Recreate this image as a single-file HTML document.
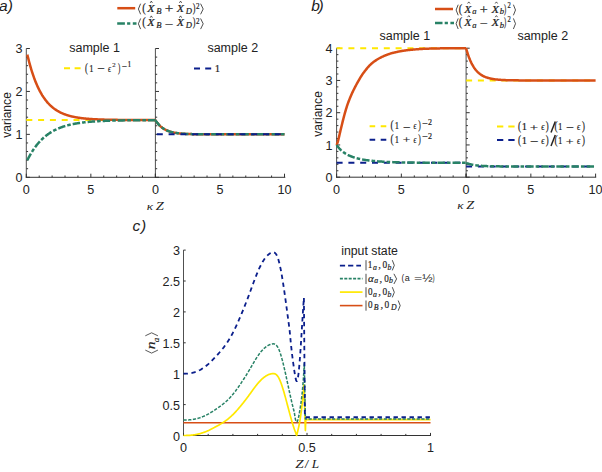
<!DOCTYPE html>
<html><head><meta charset="utf-8"><style>
html,body{margin:0;padding:0;background:#fff;overflow:hidden;}
svg{display:block;}
</style></head><body>
<svg width="602" height="472" viewBox="0 0 602 472">
<rect width="602" height="472" fill="#fff"/>
<line x1="26.30" y1="48.51" x2="26.30" y2="177.80" stroke="#505050" stroke-width="1"/>
<line x1="26.30" y1="177.30" x2="29.90" y2="177.30" stroke="#333" stroke-width="1"/>
<line x1="26.30" y1="168.71" x2="28.10" y2="168.71" stroke="#333" stroke-width="1"/>
<line x1="26.30" y1="160.13" x2="28.10" y2="160.13" stroke="#333" stroke-width="1"/>
<line x1="26.30" y1="151.54" x2="28.10" y2="151.54" stroke="#333" stroke-width="1"/>
<line x1="26.30" y1="142.96" x2="28.10" y2="142.96" stroke="#333" stroke-width="1"/>
<line x1="26.30" y1="134.37" x2="29.90" y2="134.37" stroke="#333" stroke-width="1"/>
<line x1="26.30" y1="125.78" x2="28.10" y2="125.78" stroke="#333" stroke-width="1"/>
<line x1="26.30" y1="117.20" x2="28.10" y2="117.20" stroke="#333" stroke-width="1"/>
<line x1="26.30" y1="108.61" x2="28.10" y2="108.61" stroke="#333" stroke-width="1"/>
<line x1="26.30" y1="100.03" x2="28.10" y2="100.03" stroke="#333" stroke-width="1"/>
<line x1="26.30" y1="91.44" x2="29.90" y2="91.44" stroke="#333" stroke-width="1"/>
<line x1="26.30" y1="82.85" x2="28.10" y2="82.85" stroke="#333" stroke-width="1"/>
<line x1="26.30" y1="74.27" x2="28.10" y2="74.27" stroke="#333" stroke-width="1"/>
<line x1="26.30" y1="65.68" x2="28.10" y2="65.68" stroke="#333" stroke-width="1"/>
<line x1="26.30" y1="57.10" x2="28.10" y2="57.10" stroke="#333" stroke-width="1"/>
<line x1="26.30" y1="48.51" x2="29.90" y2="48.51" stroke="#333" stroke-width="1"/>
<line x1="155.40" y1="48.51" x2="155.40" y2="177.80" stroke="#505050" stroke-width="1"/>
<line x1="155.40" y1="177.30" x2="159.00" y2="177.30" stroke="#333" stroke-width="1"/>
<line x1="155.40" y1="168.71" x2="157.20" y2="168.71" stroke="#333" stroke-width="1"/>
<line x1="155.40" y1="160.13" x2="157.20" y2="160.13" stroke="#333" stroke-width="1"/>
<line x1="155.40" y1="151.54" x2="157.20" y2="151.54" stroke="#333" stroke-width="1"/>
<line x1="155.40" y1="142.96" x2="157.20" y2="142.96" stroke="#333" stroke-width="1"/>
<line x1="155.40" y1="134.37" x2="159.00" y2="134.37" stroke="#333" stroke-width="1"/>
<line x1="155.40" y1="125.78" x2="157.20" y2="125.78" stroke="#333" stroke-width="1"/>
<line x1="155.40" y1="117.20" x2="157.20" y2="117.20" stroke="#333" stroke-width="1"/>
<line x1="155.40" y1="108.61" x2="157.20" y2="108.61" stroke="#333" stroke-width="1"/>
<line x1="155.40" y1="100.03" x2="157.20" y2="100.03" stroke="#333" stroke-width="1"/>
<line x1="155.40" y1="91.44" x2="159.00" y2="91.44" stroke="#333" stroke-width="1"/>
<line x1="155.40" y1="82.85" x2="157.20" y2="82.85" stroke="#333" stroke-width="1"/>
<line x1="155.40" y1="74.27" x2="157.20" y2="74.27" stroke="#333" stroke-width="1"/>
<line x1="155.40" y1="65.68" x2="157.20" y2="65.68" stroke="#333" stroke-width="1"/>
<line x1="155.40" y1="57.10" x2="157.20" y2="57.10" stroke="#333" stroke-width="1"/>
<line x1="155.40" y1="48.51" x2="159.00" y2="48.51" stroke="#333" stroke-width="1"/>
<line x1="25.80" y1="177.30" x2="285.30" y2="177.30" stroke="#333" stroke-width="1"/>
<line x1="26.30" y1="177.30" x2="26.30" y2="173.70" stroke="#333" stroke-width="1"/>
<line x1="39.21" y1="177.30" x2="39.21" y2="175.50" stroke="#333" stroke-width="1"/>
<line x1="52.12" y1="177.30" x2="52.12" y2="175.50" stroke="#333" stroke-width="1"/>
<line x1="65.03" y1="177.30" x2="65.03" y2="175.50" stroke="#333" stroke-width="1"/>
<line x1="77.94" y1="177.30" x2="77.94" y2="175.50" stroke="#333" stroke-width="1"/>
<line x1="90.85" y1="177.30" x2="90.85" y2="173.70" stroke="#333" stroke-width="1"/>
<line x1="103.76" y1="177.30" x2="103.76" y2="175.50" stroke="#333" stroke-width="1"/>
<line x1="116.67" y1="177.30" x2="116.67" y2="175.50" stroke="#333" stroke-width="1"/>
<line x1="129.58" y1="177.30" x2="129.58" y2="175.50" stroke="#333" stroke-width="1"/>
<line x1="142.49" y1="177.30" x2="142.49" y2="175.50" stroke="#333" stroke-width="1"/>
<line x1="155.40" y1="177.30" x2="155.40" y2="173.70" stroke="#333" stroke-width="1"/>
<line x1="155.40" y1="177.30" x2="155.40" y2="173.70" stroke="#333" stroke-width="1"/>
<line x1="168.31" y1="177.30" x2="168.31" y2="175.50" stroke="#333" stroke-width="1"/>
<line x1="181.22" y1="177.30" x2="181.22" y2="175.50" stroke="#333" stroke-width="1"/>
<line x1="194.13" y1="177.30" x2="194.13" y2="175.50" stroke="#333" stroke-width="1"/>
<line x1="207.04" y1="177.30" x2="207.04" y2="175.50" stroke="#333" stroke-width="1"/>
<line x1="219.95" y1="177.30" x2="219.95" y2="173.70" stroke="#333" stroke-width="1"/>
<line x1="232.86" y1="177.30" x2="232.86" y2="175.50" stroke="#333" stroke-width="1"/>
<line x1="245.77" y1="177.30" x2="245.77" y2="175.50" stroke="#333" stroke-width="1"/>
<line x1="258.68" y1="177.30" x2="258.68" y2="175.50" stroke="#333" stroke-width="1"/>
<line x1="271.59" y1="177.30" x2="271.59" y2="175.50" stroke="#333" stroke-width="1"/>
<line x1="284.50" y1="177.30" x2="284.50" y2="173.70" stroke="#333" stroke-width="1"/>
<path d="M26.30,120.06 L155.40,120.06" fill="none" stroke="#FFE800" stroke-width="2.0" stroke-dasharray="6 5.8" stroke-linejoin="round"/>
<path d="M27.33,54.63 L27.76,56.42 L28.19,58.17 L28.61,59.86 L29.04,61.51 L29.47,63.12 L29.89,64.68 L30.32,66.19 L30.75,67.67 L31.17,69.10 L31.60,70.50 L32.03,71.86 L32.46,73.18 L32.88,74.46 L33.31,75.71 L33.74,76.93 L34.16,78.11 L34.59,79.26 L35.02,80.37 L35.44,81.46 L35.87,82.52 L36.30,83.55 L36.72,84.55 L37.15,85.52 L37.58,86.47 L38.01,87.39 L38.43,88.28 L38.86,89.15 L39.29,90.00 L39.71,90.82 L40.14,91.62 L40.57,92.40 L40.99,93.16 L41.42,93.90 L41.85,94.61 L42.27,95.31 L42.70,95.99 L43.13,96.65 L43.55,97.29 L43.98,97.91 L44.41,98.52 L44.84,99.11 L45.26,99.68 L45.69,100.24 L46.12,100.79 L46.54,101.31 L46.97,101.83 L47.40,102.33 L47.82,102.81 L48.25,103.28 L48.68,103.74 L49.10,104.19 L49.53,104.63 L49.96,105.05 L50.38,105.46 L50.81,105.86 L51.24,106.25 L51.67,106.63 L52.09,106.99 L52.52,107.35 L52.95,107.70 L53.37,108.04 L53.80,108.37 L54.23,108.69 L54.65,109.00 L55.08,109.30 L55.51,109.60 L55.93,109.88 L56.36,110.16 L56.79,110.43 L57.22,110.70 L57.64,110.95 L58.07,111.20 L58.50,111.45 L58.92,111.68 L59.35,111.91 L59.78,112.14 L60.20,112.35 L60.63,112.56 L61.06,112.77 L61.48,112.97 L61.91,113.16 L62.34,113.35 L62.76,113.54 L63.19,113.71 L63.62,113.89 L64.05,114.06 L64.47,114.22 L64.90,114.38 L65.33,114.54 L65.75,114.69 L66.18,114.84 L66.61,114.98 L67.03,115.12 L67.46,115.25 L67.89,115.38 L68.31,115.51 L68.74,115.64 L69.17,115.76 L69.59,115.88 L70.02,115.99 L70.45,116.10 L70.88,116.21 L71.30,116.32 L71.73,116.42 L72.16,116.52 L72.58,116.62 L73.01,116.71 L73.44,116.80 L73.86,116.89 L74.29,116.98 L74.72,117.06 L75.14,117.14 L75.57,117.22 L76.00,117.30 L76.43,117.38 L76.85,117.45 L77.28,117.52 L77.71,117.59 L78.13,117.66 L78.56,117.73 L78.99,117.79 L79.41,117.85 L79.84,117.91 L80.27,117.97 L80.69,118.03 L81.12,118.08 L81.55,118.14 L81.97,118.19 L82.40,118.24 L82.83,118.29 L83.26,118.34 L83.68,118.39 L84.11,118.43 L84.54,118.48 L84.96,118.52 L85.39,118.56 L85.82,118.60 L86.24,118.64 L86.67,118.68 L87.10,118.72 L87.52,118.76 L87.95,118.79 L88.38,118.83 L88.81,118.86 L89.23,118.89 L89.66,118.93 L90.09,118.96 L90.51,118.99 L90.94,119.02 L91.37,119.05 L91.79,119.07 L92.22,119.10 L92.65,119.13 L93.07,119.15 L93.50,119.18 L93.93,119.20 L94.35,119.22 L94.78,119.25 L95.21,119.27 L95.64,119.29 L96.06,119.31 L96.49,119.33 L96.92,119.35 L97.34,119.37 L97.77,119.39 L98.20,119.41 L98.62,119.43 L99.05,119.44 L99.48,119.46 L99.90,119.48 L100.33,119.49 L100.76,119.51 L101.18,119.52 L101.61,119.54 L102.04,119.55 L102.47,119.57 L102.89,119.58 L103.32,119.59 L103.75,119.61 L104.17,119.62 L104.60,119.63 L105.03,119.64 L105.45,119.65 L105.88,119.67 L106.31,119.68 L106.73,119.69 L107.16,119.70 L107.59,119.71 L108.02,119.72 L108.44,119.73 L108.87,119.74 L109.30,119.74 L109.72,119.75 L110.15,119.76 L110.58,119.77 L111.00,119.78 L111.43,119.78 L111.86,119.79 L112.28,119.80 L112.71,119.81 L113.14,119.81 L113.56,119.82 L113.99,119.83 L114.42,119.83 L114.85,119.84 L115.27,119.85 L115.70,119.85 L116.13,119.86 L116.55,119.86 L116.98,119.87 L117.41,119.87 L117.83,119.88 L118.26,119.88 L118.69,119.89 L119.11,119.89 L119.54,119.90 L119.97,119.90 L120.39,119.91 L120.82,119.91 L121.25,119.91 L121.68,119.92 L122.10,119.92 L122.53,119.93 L122.96,119.93 L123.38,119.93 L123.81,119.94 L124.24,119.94 L124.66,119.94 L125.09,119.95 L125.52,119.95 L125.94,119.95 L126.37,119.96 L126.80,119.96 L127.23,119.96 L127.65,119.96 L128.08,119.97 L128.51,119.97 L128.93,119.97 L129.36,119.97 L129.79,119.98 L130.21,119.98 L130.64,119.98 L131.07,119.98 L131.49,119.99 L131.92,119.99 L132.35,119.99 L132.77,119.99 L133.20,119.99 L133.63,120.00 L134.06,120.00 L134.48,120.00 L134.91,120.00 L135.34,120.00 L135.76,120.00 L136.19,120.01 L136.62,120.01 L137.04,120.01 L137.47,120.01 L137.90,120.01 L138.32,120.01 L138.75,120.01 L139.18,120.01 L139.61,120.02 L140.03,120.02 L140.46,120.02 L140.89,120.02 L141.31,120.02 L141.74,120.02 L142.17,120.02 L142.59,120.02 L143.02,120.02 L143.45,120.03 L143.87,120.03 L144.30,120.03 L144.73,120.03 L145.15,120.03 L145.58,120.03 L146.01,120.03 L146.44,120.03 L146.86,120.03 L147.29,120.03 L147.72,120.03 L148.14,120.03 L148.57,120.04 L149.00,120.04 L149.42,120.04 L149.85,120.04 L150.28,120.04 L150.70,120.04 L151.13,120.04 L151.56,120.04 L151.98,120.04 L152.41,120.04 L152.84,120.04 L153.27,120.04 L153.69,120.04 L154.12,120.04 L154.55,120.04 L154.97,120.04 L155.40,120.04" fill="none" stroke="#D74E16" stroke-width="2.5" stroke-linejoin="round"/>
<path d="M27.33,160.20 L27.76,159.35 L28.19,158.51 L28.61,157.70 L29.04,156.90 L29.47,156.11 L29.89,155.35 L30.32,154.60 L30.75,153.86 L31.17,153.14 L31.60,152.44 L32.03,151.75 L32.46,151.08 L32.88,150.42 L33.31,149.77 L33.74,149.14 L34.16,148.52 L34.59,147.92 L35.02,147.32 L35.44,146.74 L35.87,146.18 L36.30,145.62 L36.72,145.08 L37.15,144.55 L37.58,144.03 L38.01,143.52 L38.43,143.02 L38.86,142.53 L39.29,142.05 L39.71,141.58 L40.14,141.13 L40.57,140.68 L40.99,140.24 L41.42,139.81 L41.85,139.39 L42.27,138.98 L42.70,138.58 L43.13,138.18 L43.55,137.80 L43.98,137.42 L44.41,137.05 L44.84,136.69 L45.26,136.34 L45.69,135.99 L46.12,135.65 L46.54,135.32 L46.97,135.00 L47.40,134.68 L47.82,134.37 L48.25,134.06 L48.68,133.77 L49.10,133.47 L49.53,133.19 L49.96,132.91 L50.38,132.64 L50.81,132.37 L51.24,132.11 L51.67,131.85 L52.09,131.60 L52.52,131.35 L52.95,131.11 L53.37,130.88 L53.80,130.65 L54.23,130.42 L54.65,130.20 L55.08,129.99 L55.51,129.78 L55.93,129.57 L56.36,129.37 L56.79,129.17 L57.22,128.98 L57.64,128.79 L58.07,128.60 L58.50,128.42 L58.92,128.24 L59.35,128.07 L59.78,127.90 L60.20,127.73 L60.63,127.57 L61.06,127.41 L61.48,127.25 L61.91,127.10 L62.34,126.95 L62.76,126.80 L63.19,126.66 L63.62,126.52 L64.05,126.38 L64.47,126.25 L64.90,126.12 L65.33,125.99 L65.75,125.86 L66.18,125.74 L66.61,125.62 L67.03,125.50 L67.46,125.38 L67.89,125.27 L68.31,125.16 L68.74,125.05 L69.17,124.94 L69.59,124.84 L70.02,124.74 L70.45,124.64 L70.88,124.54 L71.30,124.45 L71.73,124.35 L72.16,124.26 L72.58,124.17 L73.01,124.09 L73.44,124.00 L73.86,123.92 L74.29,123.83 L74.72,123.75 L75.14,123.68 L75.57,123.60 L76.00,123.52 L76.43,123.45 L76.85,123.38 L77.28,123.31 L77.71,123.24 L78.13,123.17 L78.56,123.10 L78.99,123.04 L79.41,122.98 L79.84,122.91 L80.27,122.85 L80.69,122.79 L81.12,122.74 L81.55,122.68 L81.97,122.62 L82.40,122.57 L82.83,122.52 L83.26,122.46 L83.68,122.41 L84.11,122.36 L84.54,122.31 L84.96,122.27 L85.39,122.22 L85.82,122.17 L86.24,122.13 L86.67,122.08 L87.10,122.04 L87.52,122.00 L87.95,121.96 L88.38,121.92 L88.81,121.88 L89.23,121.84 L89.66,121.80 L90.09,121.76 L90.51,121.73 L90.94,121.69 L91.37,121.66 L91.79,121.62 L92.22,121.59 L92.65,121.56 L93.07,121.53 L93.50,121.49 L93.93,121.46 L94.35,121.43 L94.78,121.41 L95.21,121.38 L95.64,121.35 L96.06,121.32 L96.49,121.29 L96.92,121.27 L97.34,121.24 L97.77,121.22 L98.20,121.19 L98.62,121.17 L99.05,121.14 L99.48,121.12 L99.90,121.10 L100.33,121.08 L100.76,121.06 L101.18,121.03 L101.61,121.01 L102.04,120.99 L102.47,120.97 L102.89,120.95 L103.32,120.94 L103.75,120.92 L104.17,120.90 L104.60,120.88 L105.03,120.86 L105.45,120.85 L105.88,120.83 L106.31,120.81 L106.73,120.80 L107.16,120.78 L107.59,120.77 L108.02,120.75 L108.44,120.74 L108.87,120.72 L109.30,120.71 L109.72,120.69 L110.15,120.68 L110.58,120.67 L111.00,120.65 L111.43,120.64 L111.86,120.63 L112.28,120.62 L112.71,120.61 L113.14,120.59 L113.56,120.58 L113.99,120.57 L114.42,120.56 L114.85,120.55 L115.27,120.54 L115.70,120.53 L116.13,120.52 L116.55,120.51 L116.98,120.50 L117.41,120.49 L117.83,120.48 L118.26,120.47 L118.69,120.46 L119.11,120.46 L119.54,120.45 L119.97,120.44 L120.39,120.43 L120.82,120.42 L121.25,120.41 L121.68,120.41 L122.10,120.40 L122.53,120.39 L122.96,120.39 L123.38,120.38 L123.81,120.37 L124.24,120.37 L124.66,120.36 L125.09,120.35 L125.52,120.35 L125.94,120.34 L126.37,120.33 L126.80,120.33 L127.23,120.32 L127.65,120.32 L128.08,120.31 L128.51,120.31 L128.93,120.30 L129.36,120.30 L129.79,120.29 L130.21,120.29 L130.64,120.28 L131.07,120.28 L131.49,120.27 L131.92,120.27 L132.35,120.26 L132.77,120.26 L133.20,120.25 L133.63,120.25 L134.06,120.25 L134.48,120.24 L134.91,120.24 L135.34,120.23 L135.76,120.23 L136.19,120.23 L136.62,120.22 L137.04,120.22 L137.47,120.22 L137.90,120.21 L138.32,120.21 L138.75,120.21 L139.18,120.20 L139.61,120.20 L140.03,120.20 L140.46,120.19 L140.89,120.19 L141.31,120.19 L141.74,120.19 L142.17,120.18 L142.59,120.18 L143.02,120.18 L143.45,120.18 L143.87,120.17 L144.30,120.17 L144.73,120.17 L145.15,120.17 L145.58,120.16 L146.01,120.16 L146.44,120.16 L146.86,120.16 L147.29,120.16 L147.72,120.15 L148.14,120.15 L148.57,120.15 L149.00,120.15 L149.42,120.15 L149.85,120.14 L150.28,120.14 L150.70,120.14 L151.13,120.14 L151.56,120.14 L151.98,120.14 L152.41,120.13 L152.84,120.13 L153.27,120.13 L153.69,120.13 L154.12,120.13 L154.55,120.13 L154.97,120.12 L155.40,120.12" fill="none" stroke="#288266" stroke-width="2.5" stroke-dasharray="7.5 2 3.6 2" stroke-linejoin="round"/>
<path d="M155.40,120.06 L155.83,120.74 L156.26,121.38 L156.69,121.99 L157.12,122.58 L157.55,123.13 L157.98,123.66 L158.41,124.17 L158.84,124.65 L159.27,125.11 L159.70,125.54 L160.13,125.96 L160.56,126.36 L160.99,126.74 L161.42,127.10 L161.86,127.44 L162.29,127.77 L162.72,128.08 L163.15,128.37 L163.58,128.66 L164.01,128.93 L164.44,129.18 L164.87,129.43 L165.30,129.66 L165.73,129.88 L166.16,130.10 L166.59,130.30 L167.02,130.49 L167.45,130.67 L167.88,130.85 L168.31,131.01 L168.74,131.17 L169.17,131.32 L169.60,131.47 L170.03,131.60 L170.46,131.73 L170.89,131.86 L171.32,131.98 L171.75,132.09 L172.18,132.20 L172.61,132.30 L173.04,132.40 L173.47,132.49 L173.90,132.58 L174.33,132.66 L174.77,132.74 L175.20,132.82 L175.63,132.89 L176.06,132.96 L176.49,133.03 L176.92,133.09 L177.35,133.15 L177.78,133.21 L178.21,133.27 L178.64,133.32 L179.07,133.37 L179.50,133.41 L179.93,133.46 L180.36,133.50 L180.79,133.54 L181.22,133.58 L181.65,133.62 L182.08,133.66 L182.51,133.69 L182.94,133.72 L183.37,133.75 L183.80,133.78 L184.23,133.81 L184.66,133.84 L185.09,133.86 L185.52,133.88 L185.95,133.91 L186.38,133.93 L186.81,133.95 L187.24,133.97 L187.68,133.99 L188.11,134.01 L188.54,134.02 L188.97,134.04 L189.40,134.06 L189.83,134.07 L190.26,134.08 L190.69,134.10 L191.12,134.11 L191.55,134.12 L191.98,134.13 L192.41,134.15 L192.84,134.16 L193.27,134.17 L193.70,134.18 L194.13,134.19 L194.56,134.19 L194.99,134.20 L195.42,134.21 L195.85,134.22 L196.28,134.22 L196.71,134.23 L197.14,134.24 L197.57,134.24 L198.00,134.25 L198.43,134.26 L198.86,134.26 L199.29,134.27 L199.72,134.27 L200.15,134.28 L200.59,134.28 L201.02,134.28 L201.45,134.29 L201.88,134.29 L202.31,134.30 L202.74,134.30 L203.17,134.30 L203.60,134.31 L204.03,134.31 L204.46,134.31 L204.89,134.31 L205.32,134.32 L205.75,134.32 L206.18,134.32 L206.61,134.32 L207.04,134.33 L207.47,134.33 L207.90,134.33 L208.33,134.33 L208.76,134.33 L209.19,134.34 L209.62,134.34 L210.05,134.34 L210.48,134.34 L210.91,134.34 L211.34,134.34 L211.77,134.34 L212.20,134.35 L212.63,134.35 L213.06,134.35 L213.50,134.35 L213.93,134.35 L214.36,134.35 L214.79,134.35 L215.22,134.35 L215.65,134.35 L216.08,134.35 L216.51,134.36 L216.94,134.36 L217.37,134.36 L217.80,134.36 L218.23,134.36 L218.66,134.36 L219.09,134.36 L219.52,134.36 L219.95,134.36 L220.38,134.36 L220.81,134.36 L221.24,134.36 L221.67,134.36 L222.10,134.36 L222.53,134.36 L222.96,134.36 L223.39,134.36 L223.82,134.36 L224.25,134.36 L224.68,134.36 L225.11,134.36 L225.54,134.36 L225.97,134.36 L226.41,134.37 L226.84,134.37 L227.27,134.37 L227.70,134.37 L228.13,134.37 L228.56,134.37 L228.99,134.37 L229.42,134.37 L229.85,134.37 L230.28,134.37 L230.71,134.37 L231.14,134.37 L231.57,134.37 L232.00,134.37 L232.43,134.37 L232.86,134.37 L233.29,134.37 L233.72,134.37 L234.15,134.37 L234.58,134.37 L235.01,134.37 L235.44,134.37 L235.87,134.37 L236.30,134.37 L236.73,134.37 L237.16,134.37 L237.59,134.37 L238.02,134.37 L238.45,134.37 L238.88,134.37 L239.31,134.37 L239.75,134.37 L240.18,134.37 L240.61,134.37 L241.04,134.37 L241.47,134.37 L241.90,134.37 L242.33,134.37 L242.76,134.37 L243.19,134.37 L243.62,134.37 L244.05,134.37 L244.48,134.37 L244.91,134.37 L245.34,134.37 L245.77,134.37 L246.20,134.37 L246.63,134.37 L247.06,134.37 L247.49,134.37 L247.92,134.37 L248.35,134.37 L248.78,134.37 L249.21,134.37 L249.64,134.37 L250.07,134.37 L250.50,134.37 L250.93,134.37 L251.36,134.37 L251.79,134.37 L252.23,134.37 L252.66,134.37 L253.09,134.37 L253.52,134.37 L253.95,134.37 L254.38,134.37 L254.81,134.37 L255.24,134.37 L255.67,134.37 L256.10,134.37 L256.53,134.37 L256.96,134.37 L257.39,134.37 L257.82,134.37 L258.25,134.37 L258.68,134.37 L259.11,134.37 L259.54,134.37 L259.97,134.37 L260.40,134.37 L260.83,134.37 L261.26,134.37 L261.69,134.37 L262.12,134.37 L262.55,134.37 L262.98,134.37 L263.41,134.37 L263.84,134.37 L264.27,134.37 L264.70,134.37 L265.13,134.37 L265.57,134.37 L266.00,134.37 L266.43,134.37 L266.86,134.37 L267.29,134.37 L267.72,134.37 L268.15,134.37 L268.58,134.37 L269.01,134.37 L269.44,134.37 L269.87,134.37 L270.30,134.37 L270.73,134.37 L271.16,134.37 L271.59,134.37 L272.02,134.37 L272.45,134.37 L272.88,134.37 L273.31,134.37 L273.74,134.37 L274.17,134.37 L274.60,134.37 L275.03,134.37 L275.46,134.37 L275.89,134.37 L276.32,134.37 L276.75,134.37 L277.18,134.37 L277.61,134.37 L278.05,134.37 L278.48,134.37 L278.91,134.37 L279.34,134.37 L279.77,134.37 L280.20,134.37 L280.63,134.37 L281.06,134.37 L281.49,134.37 L281.92,134.37 L282.35,134.37 L282.78,134.37 L283.21,134.37 L283.64,134.37 L284.07,134.37 L284.50,134.37" fill="none" stroke="#D74E16" stroke-width="2.5" stroke-linejoin="round"/>
<path d="M155.40,120.06 L155.83,120.74 L156.26,121.38 L156.69,121.99 L157.12,122.58 L157.55,123.13 L157.98,123.66 L158.41,124.17 L158.84,124.65 L159.27,125.11 L159.70,125.54 L160.13,125.96 L160.56,126.36 L160.99,126.74 L161.42,127.10 L161.86,127.44 L162.29,127.77 L162.72,128.08 L163.15,128.37 L163.58,128.66 L164.01,128.93 L164.44,129.18 L164.87,129.43 L165.30,129.66 L165.73,129.88 L166.16,130.10 L166.59,130.30 L167.02,130.49 L167.45,130.67 L167.88,130.85 L168.31,131.01 L168.74,131.17 L169.17,131.32 L169.60,131.47 L170.03,131.60 L170.46,131.73 L170.89,131.86 L171.32,131.98 L171.75,132.09 L172.18,132.20 L172.61,132.30 L173.04,132.40 L173.47,132.49 L173.90,132.58 L174.33,132.66 L174.77,132.74 L175.20,132.82 L175.63,132.89 L176.06,132.96 L176.49,133.03 L176.92,133.09 L177.35,133.15 L177.78,133.21 L178.21,133.27 L178.64,133.32 L179.07,133.37 L179.50,133.41 L179.93,133.46 L180.36,133.50 L180.79,133.54 L181.22,133.58 L181.65,133.62 L182.08,133.66 L182.51,133.69 L182.94,133.72 L183.37,133.75 L183.80,133.78 L184.23,133.81 L184.66,133.84 L185.09,133.86 L185.52,133.88 L185.95,133.91 L186.38,133.93 L186.81,133.95 L187.24,133.97 L187.68,133.99 L188.11,134.01 L188.54,134.02 L188.97,134.04 L189.40,134.06 L189.83,134.07 L190.26,134.08 L190.69,134.10 L191.12,134.11 L191.55,134.12 L191.98,134.13 L192.41,134.15 L192.84,134.16 L193.27,134.17 L193.70,134.18 L194.13,134.19 L194.56,134.19 L194.99,134.20 L195.42,134.21 L195.85,134.22 L196.28,134.22 L196.71,134.23 L197.14,134.24 L197.57,134.24 L198.00,134.25 L198.43,134.26 L198.86,134.26 L199.29,134.27 L199.72,134.27 L200.15,134.28 L200.59,134.28 L201.02,134.28 L201.45,134.29 L201.88,134.29 L202.31,134.30 L202.74,134.30 L203.17,134.30 L203.60,134.31 L204.03,134.31 L204.46,134.31 L204.89,134.31 L205.32,134.32 L205.75,134.32 L206.18,134.32 L206.61,134.32 L207.04,134.33 L207.47,134.33 L207.90,134.33 L208.33,134.33 L208.76,134.33 L209.19,134.34 L209.62,134.34 L210.05,134.34 L210.48,134.34 L210.91,134.34 L211.34,134.34 L211.77,134.34 L212.20,134.35 L212.63,134.35 L213.06,134.35 L213.50,134.35 L213.93,134.35 L214.36,134.35 L214.79,134.35 L215.22,134.35 L215.65,134.35 L216.08,134.35 L216.51,134.36 L216.94,134.36 L217.37,134.36 L217.80,134.36 L218.23,134.36 L218.66,134.36 L219.09,134.36 L219.52,134.36 L219.95,134.36 L220.38,134.36 L220.81,134.36 L221.24,134.36 L221.67,134.36 L222.10,134.36 L222.53,134.36 L222.96,134.36 L223.39,134.36 L223.82,134.36 L224.25,134.36 L224.68,134.36 L225.11,134.36 L225.54,134.36 L225.97,134.36 L226.41,134.37 L226.84,134.37 L227.27,134.37 L227.70,134.37 L228.13,134.37 L228.56,134.37 L228.99,134.37 L229.42,134.37 L229.85,134.37 L230.28,134.37 L230.71,134.37 L231.14,134.37 L231.57,134.37 L232.00,134.37 L232.43,134.37 L232.86,134.37 L233.29,134.37 L233.72,134.37 L234.15,134.37 L234.58,134.37 L235.01,134.37 L235.44,134.37 L235.87,134.37 L236.30,134.37 L236.73,134.37 L237.16,134.37 L237.59,134.37 L238.02,134.37 L238.45,134.37 L238.88,134.37 L239.31,134.37 L239.75,134.37 L240.18,134.37 L240.61,134.37 L241.04,134.37 L241.47,134.37 L241.90,134.37 L242.33,134.37 L242.76,134.37 L243.19,134.37 L243.62,134.37 L244.05,134.37 L244.48,134.37 L244.91,134.37 L245.34,134.37 L245.77,134.37 L246.20,134.37 L246.63,134.37 L247.06,134.37 L247.49,134.37 L247.92,134.37 L248.35,134.37 L248.78,134.37 L249.21,134.37 L249.64,134.37 L250.07,134.37 L250.50,134.37 L250.93,134.37 L251.36,134.37 L251.79,134.37 L252.23,134.37 L252.66,134.37 L253.09,134.37 L253.52,134.37 L253.95,134.37 L254.38,134.37 L254.81,134.37 L255.24,134.37 L255.67,134.37 L256.10,134.37 L256.53,134.37 L256.96,134.37 L257.39,134.37 L257.82,134.37 L258.25,134.37 L258.68,134.37 L259.11,134.37 L259.54,134.37 L259.97,134.37 L260.40,134.37 L260.83,134.37 L261.26,134.37 L261.69,134.37 L262.12,134.37 L262.55,134.37 L262.98,134.37 L263.41,134.37 L263.84,134.37 L264.27,134.37 L264.70,134.37 L265.13,134.37 L265.57,134.37 L266.00,134.37 L266.43,134.37 L266.86,134.37 L267.29,134.37 L267.72,134.37 L268.15,134.37 L268.58,134.37 L269.01,134.37 L269.44,134.37 L269.87,134.37 L270.30,134.37 L270.73,134.37 L271.16,134.37 L271.59,134.37 L272.02,134.37 L272.45,134.37 L272.88,134.37 L273.31,134.37 L273.74,134.37 L274.17,134.37 L274.60,134.37 L275.03,134.37 L275.46,134.37 L275.89,134.37 L276.32,134.37 L276.75,134.37 L277.18,134.37 L277.61,134.37 L278.05,134.37 L278.48,134.37 L278.91,134.37 L279.34,134.37 L279.77,134.37 L280.20,134.37 L280.63,134.37 L281.06,134.37 L281.49,134.37 L281.92,134.37 L282.35,134.37 L282.78,134.37 L283.21,134.37 L283.64,134.37 L284.07,134.37 L284.50,134.37" fill="none" stroke="#288266" stroke-width="2.5" stroke-dasharray="7.5 2 3.6 2" stroke-linejoin="round"/>
<path d="M155.40,134.37 L284.50,134.37" fill="none" stroke="#0B1F8C" stroke-width="2.0" stroke-dasharray="6 5.8" stroke-linejoin="round" stroke-dashoffset="-1.4"/>
<line x1="336.60" y1="48.20" x2="336.60" y2="177.70" stroke="#505050" stroke-width="1"/>
<line x1="336.60" y1="177.20" x2="340.20" y2="177.20" stroke="#333" stroke-width="1"/>
<line x1="336.60" y1="170.75" x2="338.40" y2="170.75" stroke="#333" stroke-width="1"/>
<line x1="336.60" y1="164.30" x2="338.40" y2="164.30" stroke="#333" stroke-width="1"/>
<line x1="336.60" y1="157.85" x2="338.40" y2="157.85" stroke="#333" stroke-width="1"/>
<line x1="336.60" y1="151.40" x2="338.40" y2="151.40" stroke="#333" stroke-width="1"/>
<line x1="336.60" y1="144.95" x2="340.20" y2="144.95" stroke="#333" stroke-width="1"/>
<line x1="336.60" y1="138.50" x2="338.40" y2="138.50" stroke="#333" stroke-width="1"/>
<line x1="336.60" y1="132.05" x2="338.40" y2="132.05" stroke="#333" stroke-width="1"/>
<line x1="336.60" y1="125.60" x2="338.40" y2="125.60" stroke="#333" stroke-width="1"/>
<line x1="336.60" y1="119.15" x2="338.40" y2="119.15" stroke="#333" stroke-width="1"/>
<line x1="336.60" y1="112.70" x2="340.20" y2="112.70" stroke="#333" stroke-width="1"/>
<line x1="336.60" y1="106.25" x2="338.40" y2="106.25" stroke="#333" stroke-width="1"/>
<line x1="336.60" y1="99.80" x2="338.40" y2="99.80" stroke="#333" stroke-width="1"/>
<line x1="336.60" y1="93.35" x2="338.40" y2="93.35" stroke="#333" stroke-width="1"/>
<line x1="336.60" y1="86.90" x2="338.40" y2="86.90" stroke="#333" stroke-width="1"/>
<line x1="336.60" y1="80.45" x2="340.20" y2="80.45" stroke="#333" stroke-width="1"/>
<line x1="336.60" y1="74.00" x2="338.40" y2="74.00" stroke="#333" stroke-width="1"/>
<line x1="336.60" y1="67.55" x2="338.40" y2="67.55" stroke="#333" stroke-width="1"/>
<line x1="336.60" y1="61.10" x2="338.40" y2="61.10" stroke="#333" stroke-width="1"/>
<line x1="336.60" y1="54.65" x2="338.40" y2="54.65" stroke="#333" stroke-width="1"/>
<line x1="336.60" y1="48.20" x2="340.20" y2="48.20" stroke="#333" stroke-width="1"/>
<line x1="466.10" y1="48.20" x2="466.10" y2="177.70" stroke="#505050" stroke-width="1"/>
<line x1="466.10" y1="177.20" x2="469.70" y2="177.20" stroke="#333" stroke-width="1"/>
<line x1="466.10" y1="170.75" x2="467.90" y2="170.75" stroke="#333" stroke-width="1"/>
<line x1="466.10" y1="164.30" x2="467.90" y2="164.30" stroke="#333" stroke-width="1"/>
<line x1="466.10" y1="157.85" x2="467.90" y2="157.85" stroke="#333" stroke-width="1"/>
<line x1="466.10" y1="151.40" x2="467.90" y2="151.40" stroke="#333" stroke-width="1"/>
<line x1="466.10" y1="144.95" x2="469.70" y2="144.95" stroke="#333" stroke-width="1"/>
<line x1="466.10" y1="138.50" x2="467.90" y2="138.50" stroke="#333" stroke-width="1"/>
<line x1="466.10" y1="132.05" x2="467.90" y2="132.05" stroke="#333" stroke-width="1"/>
<line x1="466.10" y1="125.60" x2="467.90" y2="125.60" stroke="#333" stroke-width="1"/>
<line x1="466.10" y1="119.15" x2="467.90" y2="119.15" stroke="#333" stroke-width="1"/>
<line x1="466.10" y1="112.70" x2="469.70" y2="112.70" stroke="#333" stroke-width="1"/>
<line x1="466.10" y1="106.25" x2="467.90" y2="106.25" stroke="#333" stroke-width="1"/>
<line x1="466.10" y1="99.80" x2="467.90" y2="99.80" stroke="#333" stroke-width="1"/>
<line x1="466.10" y1="93.35" x2="467.90" y2="93.35" stroke="#333" stroke-width="1"/>
<line x1="466.10" y1="86.90" x2="467.90" y2="86.90" stroke="#333" stroke-width="1"/>
<line x1="466.10" y1="80.45" x2="469.70" y2="80.45" stroke="#333" stroke-width="1"/>
<line x1="466.10" y1="74.00" x2="467.90" y2="74.00" stroke="#333" stroke-width="1"/>
<line x1="466.10" y1="67.55" x2="467.90" y2="67.55" stroke="#333" stroke-width="1"/>
<line x1="466.10" y1="61.10" x2="467.90" y2="61.10" stroke="#333" stroke-width="1"/>
<line x1="466.10" y1="54.65" x2="467.90" y2="54.65" stroke="#333" stroke-width="1"/>
<line x1="466.10" y1="48.20" x2="469.70" y2="48.20" stroke="#333" stroke-width="1"/>
<line x1="336.10" y1="177.20" x2="596.20" y2="177.20" stroke="#333" stroke-width="1"/>
<line x1="336.60" y1="177.20" x2="336.60" y2="173.60" stroke="#333" stroke-width="1"/>
<line x1="349.55" y1="177.20" x2="349.55" y2="175.40" stroke="#333" stroke-width="1"/>
<line x1="362.50" y1="177.20" x2="362.50" y2="175.40" stroke="#333" stroke-width="1"/>
<line x1="375.45" y1="177.20" x2="375.45" y2="175.40" stroke="#333" stroke-width="1"/>
<line x1="388.40" y1="177.20" x2="388.40" y2="175.40" stroke="#333" stroke-width="1"/>
<line x1="401.35" y1="177.20" x2="401.35" y2="173.60" stroke="#333" stroke-width="1"/>
<line x1="414.30" y1="177.20" x2="414.30" y2="175.40" stroke="#333" stroke-width="1"/>
<line x1="427.25" y1="177.20" x2="427.25" y2="175.40" stroke="#333" stroke-width="1"/>
<line x1="440.20" y1="177.20" x2="440.20" y2="175.40" stroke="#333" stroke-width="1"/>
<line x1="453.15" y1="177.20" x2="453.15" y2="175.40" stroke="#333" stroke-width="1"/>
<line x1="466.10" y1="177.20" x2="466.10" y2="173.60" stroke="#333" stroke-width="1"/>
<line x1="466.10" y1="177.20" x2="466.10" y2="173.60" stroke="#333" stroke-width="1"/>
<line x1="479.05" y1="177.20" x2="479.05" y2="175.40" stroke="#333" stroke-width="1"/>
<line x1="492.00" y1="177.20" x2="492.00" y2="175.40" stroke="#333" stroke-width="1"/>
<line x1="504.95" y1="177.20" x2="504.95" y2="175.40" stroke="#333" stroke-width="1"/>
<line x1="517.90" y1="177.20" x2="517.90" y2="175.40" stroke="#333" stroke-width="1"/>
<line x1="530.85" y1="177.20" x2="530.85" y2="173.60" stroke="#333" stroke-width="1"/>
<line x1="543.80" y1="177.20" x2="543.80" y2="175.40" stroke="#333" stroke-width="1"/>
<line x1="556.75" y1="177.20" x2="556.75" y2="175.40" stroke="#333" stroke-width="1"/>
<line x1="569.70" y1="177.20" x2="569.70" y2="175.40" stroke="#333" stroke-width="1"/>
<line x1="582.65" y1="177.20" x2="582.65" y2="175.40" stroke="#333" stroke-width="1"/>
<line x1="595.60" y1="177.20" x2="595.60" y2="173.60" stroke="#333" stroke-width="1"/>
<path d="M336.60,48.20 L466.10,48.20" fill="none" stroke="#FFE800" stroke-width="2.0" stroke-dasharray="6 5.8" stroke-linejoin="round"/>
<path d="M336.60,162.87 L466.10,162.87" fill="none" stroke="#0B1F8C" stroke-width="2.0" stroke-dasharray="6 5.8" stroke-linejoin="round"/>
<path d="M336.60,144.95 L337.03,143.95 L337.46,142.76 L337.90,141.34 L338.33,139.73 L338.76,137.98 L339.19,136.14 L339.62,134.26 L340.05,132.37 L340.49,130.53 L340.92,128.77 L341.35,127.01 L341.78,125.22 L342.21,123.43 L342.64,121.66 L343.08,119.91 L343.51,118.21 L343.94,116.56 L344.37,114.98 L344.80,113.42 L345.23,111.89 L345.67,110.40 L346.10,108.94 L346.53,107.53 L346.96,106.18 L347.39,104.89 L347.82,103.66 L348.25,102.46 L348.69,101.31 L349.12,100.19 L349.55,99.10 L349.98,98.04 L350.41,97.00 L350.85,95.99 L351.28,95.00 L351.71,94.02 L352.14,93.06 L352.57,92.13 L353.00,91.21 L353.44,90.31 L353.87,89.43 L354.30,88.57 L354.73,87.72 L355.16,86.89 L355.59,86.08 L356.03,85.27 L356.46,84.48 L356.89,83.69 L357.32,82.91 L357.75,82.13 L358.18,81.36 L358.62,80.59 L359.05,79.83 L359.48,79.09 L359.91,78.35 L360.34,77.63 L360.77,76.92 L361.21,76.23 L361.64,75.55 L362.07,74.90 L362.50,74.26 L362.93,73.65 L363.36,73.06 L363.80,72.48 L364.23,71.90 L364.66,71.33 L365.09,70.76 L365.52,70.21 L365.95,69.66 L366.38,69.12 L366.82,68.59 L367.25,68.07 L367.68,67.56 L368.11,67.06 L368.54,66.57 L368.98,66.10 L369.41,65.64 L369.84,65.20 L370.27,64.77 L370.70,64.35 L371.13,63.96 L371.57,63.57 L372.00,63.21 L372.43,62.86 L372.86,62.52 L373.29,62.19 L373.72,61.87 L374.16,61.55 L374.59,61.24 L375.02,60.94 L375.45,60.64 L375.88,60.35 L376.31,60.06 L376.75,59.79 L377.18,59.52 L377.61,59.25 L378.04,58.99 L378.47,58.74 L378.90,58.49 L379.34,58.25 L379.77,58.01 L380.20,57.78 L380.63,57.56 L381.06,57.34 L381.49,57.12 L381.93,56.92 L382.36,56.71 L382.79,56.51 L383.22,56.32 L383.65,56.13 L384.08,55.94 L384.51,55.76 L384.95,55.58 L385.38,55.40 L385.81,55.23 L386.24,55.06 L386.67,54.89 L387.11,54.73 L387.54,54.57 L387.97,54.41 L388.40,54.26 L388.83,54.11 L389.26,53.96 L389.69,53.82 L390.13,53.68 L390.56,53.55 L390.99,53.42 L391.42,53.29 L391.85,53.17 L392.29,53.05 L392.72,52.93 L393.15,52.82 L393.58,52.71 L394.01,52.61 L394.44,52.51 L394.88,52.41 L395.31,52.31 L395.74,52.21 L396.17,52.11 L396.60,52.02 L397.03,51.92 L397.47,51.83 L397.90,51.74 L398.33,51.65 L398.76,51.56 L399.19,51.48 L399.62,51.39 L400.06,51.31 L400.49,51.23 L400.92,51.15 L401.35,51.07 L401.78,50.99 L402.21,50.92 L402.64,50.85 L403.08,50.78 L403.51,50.71 L403.94,50.64 L404.37,50.58 L404.80,50.51 L405.24,50.45 L405.67,50.40 L406.10,50.34 L406.53,50.28 L406.96,50.23 L407.39,50.18 L407.83,50.13 L408.26,50.09 L408.69,50.04 L409.12,50.00 L409.55,49.95 L409.98,49.91 L410.42,49.86 L410.85,49.82 L411.28,49.78 L411.71,49.73 L412.14,49.69 L412.57,49.65 L413.00,49.61 L413.44,49.57 L413.87,49.53 L414.30,49.49 L414.73,49.45 L415.16,49.42 L415.60,49.38 L416.03,49.34 L416.46,49.31 L416.89,49.27 L417.32,49.24 L417.75,49.21 L418.19,49.17 L418.62,49.14 L419.05,49.11 L419.48,49.08 L419.91,49.05 L420.34,49.02 L420.78,48.99 L421.21,48.97 L421.64,48.94 L422.07,48.92 L422.50,48.89 L422.93,48.87 L423.37,48.85 L423.80,48.82 L424.23,48.80 L424.66,48.78 L425.09,48.76 L425.52,48.75 L425.96,48.73 L426.39,48.71 L426.82,48.70 L427.25,48.68 L427.68,48.67 L428.11,48.66 L428.55,48.64 L428.98,48.63 L429.41,48.62 L429.84,48.61 L430.27,48.59 L430.70,48.58 L431.13,48.57 L431.57,48.56 L432.00,48.55 L432.43,48.54 L432.86,48.53 L433.29,48.51 L433.73,48.50 L434.16,48.49 L434.59,48.48 L435.02,48.47 L435.45,48.46 L435.88,48.46 L436.32,48.45 L436.75,48.44 L437.18,48.43 L437.61,48.42 L438.04,48.41 L438.47,48.40 L438.91,48.40 L439.34,48.39 L439.77,48.38 L440.20,48.37 L440.63,48.37 L441.06,48.36 L441.50,48.35 L441.93,48.35 L442.36,48.34 L442.79,48.34 L443.22,48.33 L443.65,48.33 L444.09,48.32 L444.52,48.32 L444.95,48.31 L445.38,48.31 L445.81,48.30 L446.24,48.30 L446.68,48.30 L447.11,48.29 L447.54,48.29 L447.97,48.29 L448.40,48.28 L448.83,48.28 L449.26,48.28 L449.70,48.27 L450.13,48.27 L450.56,48.27 L450.99,48.26 L451.42,48.26 L451.86,48.26 L452.29,48.25 L452.72,48.25 L453.15,48.25 L453.58,48.25 L454.01,48.24 L454.44,48.24 L454.88,48.24 L455.31,48.24 L455.74,48.23 L456.17,48.23 L456.60,48.23 L457.04,48.23 L457.47,48.22 L457.90,48.22 L458.33,48.22 L458.76,48.22 L459.19,48.22 L459.62,48.21 L460.06,48.21 L460.49,48.21 L460.92,48.21 L461.35,48.21 L461.78,48.21 L462.22,48.21 L462.65,48.20 L463.08,48.20 L463.51,48.20 L463.94,48.20 L464.37,48.20 L464.81,48.20 L465.24,48.20 L465.67,48.20 L466.10,48.20" fill="none" stroke="#D74E16" stroke-width="2.5" stroke-linejoin="round"/>
<path d="M336.60,144.95 L337.03,145.58 L337.46,146.18 L337.90,146.75 L338.33,147.29 L338.76,147.81 L339.19,148.31 L339.62,148.78 L340.05,149.24 L340.49,149.67 L340.92,150.09 L341.35,150.49 L341.78,150.87 L342.21,151.23 L342.64,151.59 L343.08,151.93 L343.51,152.25 L343.94,152.56 L344.37,152.86 L344.80,153.15 L345.23,153.43 L345.67,153.70 L346.10,153.96 L346.53,154.21 L346.96,154.45 L347.39,154.68 L347.82,154.91 L348.25,155.12 L348.69,155.33 L349.12,155.53 L349.55,155.73 L349.98,155.92 L350.41,156.10 L350.85,156.28 L351.28,156.45 L351.71,156.62 L352.14,156.78 L352.57,156.93 L353.00,157.08 L353.44,157.23 L353.87,157.37 L354.30,157.51 L354.73,157.64 L355.16,157.77 L355.59,157.90 L356.03,158.02 L356.46,158.14 L356.89,158.25 L357.32,158.37 L357.75,158.47 L358.18,158.58 L358.62,158.68 L359.05,158.78 L359.48,158.88 L359.91,158.97 L360.34,159.07 L360.77,159.15 L361.21,159.24 L361.64,159.33 L362.07,159.41 L362.50,159.49 L362.93,159.57 L363.36,159.64 L363.80,159.72 L364.23,159.79 L364.66,159.86 L365.09,159.93 L365.52,159.99 L365.95,160.06 L366.38,160.12 L366.82,160.18 L367.25,160.24 L367.68,160.30 L368.11,160.36 L368.54,160.42 L368.98,160.47 L369.41,160.52 L369.84,160.58 L370.27,160.63 L370.70,160.68 L371.13,160.72 L371.57,160.77 L372.00,160.82 L372.43,160.86 L372.86,160.90 L373.29,160.95 L373.72,160.99 L374.16,161.03 L374.59,161.07 L375.02,161.11 L375.45,161.15 L375.88,161.18 L376.31,161.22 L376.75,161.25 L377.18,161.29 L377.61,161.32 L378.04,161.36 L378.47,161.39 L378.90,161.42 L379.34,161.45 L379.77,161.48 L380.20,161.51 L380.63,161.54 L381.06,161.57 L381.49,161.59 L381.93,161.62 L382.36,161.65 L382.79,161.67 L383.22,161.70 L383.65,161.72 L384.08,161.75 L384.51,161.77 L384.95,161.79 L385.38,161.81 L385.81,161.84 L386.24,161.86 L386.67,161.88 L387.11,161.90 L387.54,161.92 L387.97,161.94 L388.40,161.96 L388.83,161.98 L389.26,162.00 L389.69,162.01 L390.13,162.03 L390.56,162.05 L390.99,162.07 L391.42,162.08 L391.85,162.10 L392.29,162.11 L392.72,162.13 L393.15,162.14 L393.58,162.16 L394.01,162.17 L394.44,162.19 L394.88,162.20 L395.31,162.22 L395.74,162.23 L396.17,162.24 L396.60,162.25 L397.03,162.27 L397.47,162.28 L397.90,162.29 L398.33,162.30 L398.76,162.31 L399.19,162.33 L399.62,162.34 L400.06,162.35 L400.49,162.36 L400.92,162.37 L401.35,162.38 L401.78,162.39 L402.21,162.40 L402.64,162.41 L403.08,162.42 L403.51,162.43 L403.94,162.44 L404.37,162.44 L404.80,162.45 L405.24,162.46 L405.67,162.47 L406.10,162.48 L406.53,162.48 L406.96,162.49 L407.39,162.50 L407.83,162.51 L408.26,162.51 L408.69,162.52 L409.12,162.53 L409.55,162.54 L409.98,162.54 L410.42,162.55 L410.85,162.56 L411.28,162.56 L411.71,162.57 L412.14,162.57 L412.57,162.58 L413.00,162.59 L413.44,162.59 L413.87,162.60 L414.30,162.60 L414.73,162.61 L415.16,162.61 L415.60,162.62 L416.03,162.62 L416.46,162.63 L416.89,162.63 L417.32,162.64 L417.75,162.64 L418.19,162.65 L418.62,162.65 L419.05,162.65 L419.48,162.66 L419.91,162.66 L420.34,162.67 L420.78,162.67 L421.21,162.68 L421.64,162.68 L422.07,162.68 L422.50,162.69 L422.93,162.69 L423.37,162.69 L423.80,162.70 L424.23,162.70 L424.66,162.70 L425.09,162.71 L425.52,162.71 L425.96,162.71 L426.39,162.72 L426.82,162.72 L427.25,162.72 L427.68,162.73 L428.11,162.73 L428.55,162.73 L428.98,162.73 L429.41,162.74 L429.84,162.74 L430.27,162.74 L430.70,162.74 L431.13,162.75 L431.57,162.75 L432.00,162.75 L432.43,162.75 L432.86,162.76 L433.29,162.76 L433.73,162.76 L434.16,162.76 L434.59,162.76 L435.02,162.77 L435.45,162.77 L435.88,162.77 L436.32,162.77 L436.75,162.77 L437.18,162.78 L437.61,162.78 L438.04,162.78 L438.47,162.78 L438.91,162.78 L439.34,162.78 L439.77,162.79 L440.20,162.79 L440.63,162.79 L441.06,162.79 L441.50,162.79 L441.93,162.79 L442.36,162.80 L442.79,162.80 L443.22,162.80 L443.65,162.80 L444.09,162.80 L444.52,162.80 L444.95,162.80 L445.38,162.80 L445.81,162.81 L446.24,162.81 L446.68,162.81 L447.11,162.81 L447.54,162.81 L447.97,162.81 L448.40,162.81 L448.83,162.81 L449.26,162.81 L449.70,162.82 L450.13,162.82 L450.56,162.82 L450.99,162.82 L451.42,162.82 L451.86,162.82 L452.29,162.82 L452.72,162.82 L453.15,162.82 L453.58,162.82 L454.01,162.83 L454.44,162.83 L454.88,162.83 L455.31,162.83 L455.74,162.83 L456.17,162.83 L456.60,162.83 L457.04,162.83 L457.47,162.83 L457.90,162.83 L458.33,162.83 L458.76,162.83 L459.19,162.83 L459.62,162.83 L460.06,162.84 L460.49,162.84 L460.92,162.84 L461.35,162.84 L461.78,162.84 L462.22,162.84 L462.65,162.84 L463.08,162.84 L463.51,162.84 L463.94,162.84 L464.37,162.84 L464.81,162.84 L465.24,162.84 L465.67,162.84 L466.10,162.84" fill="none" stroke="#288266" stroke-width="2.5" stroke-dasharray="7.5 2 3.6 2" stroke-linejoin="round"/>
<path d="M466.10,80.45 L595.60,80.45" fill="none" stroke="#FFE800" stroke-width="2.0" stroke-dasharray="6 5.8" stroke-linejoin="round"/>
<path d="M466.10,166.45 L595.60,166.45" fill="none" stroke="#0B1F8C" stroke-width="2.0" stroke-dasharray="6 5.8" stroke-linejoin="round"/>
<path d="M466.10,48.20 L466.53,49.77 L466.96,51.27 L467.40,52.69 L467.83,54.05 L468.26,55.33 L468.69,56.56 L469.12,57.72 L469.55,58.83 L469.99,59.89 L470.42,60.89 L470.85,61.84 L471.28,62.75 L471.71,63.61 L472.14,64.44 L472.58,65.22 L473.01,65.96 L473.44,66.67 L473.87,67.34 L474.30,67.98 L474.73,68.59 L475.17,69.16 L475.60,69.71 L476.03,70.24 L476.46,70.74 L476.89,71.21 L477.32,71.66 L477.75,72.09 L478.19,72.50 L478.62,72.89 L479.05,73.25 L479.48,73.61 L479.91,73.94 L480.35,74.26 L480.78,74.56 L481.21,74.85 L481.64,75.12 L482.07,75.38 L482.50,75.63 L482.94,75.86 L483.37,76.09 L483.80,76.30 L484.23,76.50 L484.66,76.69 L485.09,76.88 L485.53,77.05 L485.96,77.22 L486.39,77.37 L486.82,77.52 L487.25,77.67 L487.68,77.80 L488.12,77.93 L488.55,78.05 L488.98,78.17 L489.41,78.28 L489.84,78.39 L490.27,78.49 L490.71,78.58 L491.14,78.68 L491.57,78.76 L492.00,78.84 L492.43,78.92 L492.86,79.00 L493.30,79.07 L493.73,79.14 L494.16,79.20 L494.59,79.26 L495.02,79.32 L495.45,79.37 L495.88,79.43 L496.32,79.48 L496.75,79.52 L497.18,79.57 L497.61,79.61 L498.04,79.65 L498.48,79.69 L498.91,79.73 L499.34,79.76 L499.77,79.80 L500.20,79.83 L500.63,79.86 L501.07,79.89 L501.50,79.92 L501.93,79.94 L502.36,79.97 L502.79,79.99 L503.22,80.01 L503.66,80.03 L504.09,80.05 L504.52,80.07 L504.95,80.09 L505.38,80.11 L505.81,80.13 L506.25,80.14 L506.68,80.16 L507.11,80.17 L507.54,80.18 L507.97,80.20 L508.40,80.21 L508.84,80.22 L509.27,80.23 L509.70,80.24 L510.13,80.25 L510.56,80.26 L510.99,80.27 L511.43,80.28 L511.86,80.29 L512.29,80.30 L512.72,80.30 L513.15,80.31 L513.58,80.32 L514.01,80.32 L514.45,80.33 L514.88,80.34 L515.31,80.34 L515.74,80.35 L516.17,80.35 L516.61,80.36 L517.04,80.36 L517.47,80.37 L517.90,80.37 L518.33,80.37 L518.76,80.38 L519.20,80.38 L519.63,80.38 L520.06,80.39 L520.49,80.39 L520.92,80.39 L521.35,80.40 L521.78,80.40 L522.22,80.40 L522.65,80.40 L523.08,80.41 L523.51,80.41 L523.94,80.41 L524.38,80.41 L524.81,80.41 L525.24,80.42 L525.67,80.42 L526.10,80.42 L526.53,80.42 L526.97,80.42 L527.40,80.42 L527.83,80.42 L528.26,80.43 L528.69,80.43 L529.12,80.43 L529.56,80.43 L529.99,80.43 L530.42,80.43 L530.85,80.43 L531.28,80.43 L531.71,80.43 L532.14,80.43 L532.58,80.44 L533.01,80.44 L533.44,80.44 L533.87,80.44 L534.30,80.44 L534.74,80.44 L535.17,80.44 L535.60,80.44 L536.03,80.44 L536.46,80.44 L536.89,80.44 L537.33,80.44 L537.76,80.44 L538.19,80.44 L538.62,80.44 L539.05,80.44 L539.48,80.44 L539.91,80.44 L540.35,80.44 L540.78,80.44 L541.21,80.44 L541.64,80.44 L542.07,80.45 L542.50,80.45 L542.94,80.45 L543.37,80.45 L543.80,80.45 L544.23,80.45 L544.66,80.45 L545.10,80.45 L545.53,80.45 L545.96,80.45 L546.39,80.45 L546.82,80.45 L547.25,80.45 L547.69,80.45 L548.12,80.45 L548.55,80.45 L548.98,80.45 L549.41,80.45 L549.84,80.45 L550.27,80.45 L550.71,80.45 L551.14,80.45 L551.57,80.45 L552.00,80.45 L552.43,80.45 L552.87,80.45 L553.30,80.45 L553.73,80.45 L554.16,80.45 L554.59,80.45 L555.02,80.45 L555.46,80.45 L555.89,80.45 L556.32,80.45 L556.75,80.45 L557.18,80.45 L557.61,80.45 L558.05,80.45 L558.48,80.45 L558.91,80.45 L559.34,80.45 L559.77,80.45 L560.20,80.45 L560.63,80.45 L561.07,80.45 L561.50,80.45 L561.93,80.45 L562.36,80.45 L562.79,80.45 L563.23,80.45 L563.66,80.45 L564.09,80.45 L564.52,80.45 L564.95,80.45 L565.38,80.45 L565.82,80.45 L566.25,80.45 L566.68,80.45 L567.11,80.45 L567.54,80.45 L567.97,80.45 L568.40,80.45 L568.84,80.45 L569.27,80.45 L569.70,80.45 L570.13,80.45 L570.56,80.45 L571.00,80.45 L571.43,80.45 L571.86,80.45 L572.29,80.45 L572.72,80.45 L573.15,80.45 L573.59,80.45 L574.02,80.45 L574.45,80.45 L574.88,80.45 L575.31,80.45 L575.74,80.45 L576.17,80.45 L576.61,80.45 L577.04,80.45 L577.47,80.45 L577.90,80.45 L578.33,80.45 L578.76,80.45 L579.20,80.45 L579.63,80.45 L580.06,80.45 L580.49,80.45 L580.92,80.45 L581.36,80.45 L581.79,80.45 L582.22,80.45 L582.65,80.45 L583.08,80.45 L583.51,80.45 L583.95,80.45 L584.38,80.45 L584.81,80.45 L585.24,80.45 L585.67,80.45 L586.10,80.45 L586.54,80.45 L586.97,80.45 L587.40,80.45 L587.83,80.45 L588.26,80.45 L588.69,80.45 L589.12,80.45 L589.56,80.45 L589.99,80.45 L590.42,80.45 L590.85,80.45 L591.28,80.45 L591.72,80.45 L592.15,80.45 L592.58,80.45 L593.01,80.45 L593.44,80.45 L593.87,80.45 L594.31,80.45 L594.74,80.45 L595.17,80.45 L595.60,80.45" fill="none" stroke="#D74E16" stroke-width="2.5" stroke-linejoin="round"/>
<path d="M466.10,162.87 L466.53,163.04 L466.96,163.21 L467.40,163.37 L467.83,163.52 L468.26,163.66 L468.69,163.80 L469.12,163.92 L469.55,164.05 L469.99,164.17 L470.42,164.28 L470.85,164.38 L471.28,164.48 L471.71,164.58 L472.14,164.67 L472.58,164.76 L473.01,164.84 L473.44,164.92 L473.87,164.99 L474.30,165.06 L474.73,165.13 L475.17,165.20 L475.60,165.26 L476.03,165.32 L476.46,165.37 L476.89,165.42 L477.32,165.47 L477.75,165.52 L478.19,165.57 L478.62,165.61 L479.05,165.65 L479.48,165.69 L479.91,165.73 L480.35,165.76 L480.78,165.80 L481.21,165.83 L481.64,165.86 L482.07,165.89 L482.50,165.91 L482.94,165.94 L483.37,165.97 L483.80,165.99 L484.23,166.01 L484.66,166.03 L485.09,166.05 L485.53,166.07 L485.96,166.09 L486.39,166.11 L486.82,166.12 L487.25,166.14 L487.68,166.16 L488.12,166.17 L488.55,166.18 L488.98,166.20 L489.41,166.21 L489.84,166.22 L490.27,166.23 L490.71,166.24 L491.14,166.25 L491.57,166.26 L492.00,166.27 L492.43,166.28 L492.86,166.29 L493.30,166.30 L493.73,166.30 L494.16,166.31 L494.59,166.32 L495.02,166.32 L495.45,166.33 L495.88,166.34 L496.32,166.34 L496.75,166.35 L497.18,166.35 L497.61,166.36 L498.04,166.36 L498.48,166.37 L498.91,166.37 L499.34,166.37 L499.77,166.38 L500.20,166.38 L500.63,166.38 L501.07,166.39 L501.50,166.39 L501.93,166.39 L502.36,166.40 L502.79,166.40 L503.22,166.40 L503.66,166.40 L504.09,166.41 L504.52,166.41 L504.95,166.41 L505.38,166.41 L505.81,166.41 L506.25,166.42 L506.68,166.42 L507.11,166.42 L507.54,166.42 L507.97,166.42 L508.40,166.42 L508.84,166.42 L509.27,166.43 L509.70,166.43 L510.13,166.43 L510.56,166.43 L510.99,166.43 L511.43,166.43 L511.86,166.43 L512.29,166.43 L512.72,166.43 L513.15,166.43 L513.58,166.44 L514.01,166.44 L514.45,166.44 L514.88,166.44 L515.31,166.44 L515.74,166.44 L516.17,166.44 L516.61,166.44 L517.04,166.44 L517.47,166.44 L517.90,166.44 L518.33,166.44 L518.76,166.44 L519.20,166.44 L519.63,166.44 L520.06,166.44 L520.49,166.44 L520.92,166.44 L521.35,166.44 L521.78,166.44 L522.22,166.44 L522.65,166.44 L523.08,166.45 L523.51,166.45 L523.94,166.45 L524.38,166.45 L524.81,166.45 L525.24,166.45 L525.67,166.45 L526.10,166.45 L526.53,166.45 L526.97,166.45 L527.40,166.45 L527.83,166.45 L528.26,166.45 L528.69,166.45 L529.12,166.45 L529.56,166.45 L529.99,166.45 L530.42,166.45 L530.85,166.45 L531.28,166.45 L531.71,166.45 L532.14,166.45 L532.58,166.45 L533.01,166.45 L533.44,166.45 L533.87,166.45 L534.30,166.45 L534.74,166.45 L535.17,166.45 L535.60,166.45 L536.03,166.45 L536.46,166.45 L536.89,166.45 L537.33,166.45 L537.76,166.45 L538.19,166.45 L538.62,166.45 L539.05,166.45 L539.48,166.45 L539.91,166.45 L540.35,166.45 L540.78,166.45 L541.21,166.45 L541.64,166.45 L542.07,166.45 L542.50,166.45 L542.94,166.45 L543.37,166.45 L543.80,166.45 L544.23,166.45 L544.66,166.45 L545.10,166.45 L545.53,166.45 L545.96,166.45 L546.39,166.45 L546.82,166.45 L547.25,166.45 L547.69,166.45 L548.12,166.45 L548.55,166.45 L548.98,166.45 L549.41,166.45 L549.84,166.45 L550.27,166.45 L550.71,166.45 L551.14,166.45 L551.57,166.45 L552.00,166.45 L552.43,166.45 L552.87,166.45 L553.30,166.45 L553.73,166.45 L554.16,166.45 L554.59,166.45 L555.02,166.45 L555.46,166.45 L555.89,166.45 L556.32,166.45 L556.75,166.45 L557.18,166.45 L557.61,166.45 L558.05,166.45 L558.48,166.45 L558.91,166.45 L559.34,166.45 L559.77,166.45 L560.20,166.45 L560.63,166.45 L561.07,166.45 L561.50,166.45 L561.93,166.45 L562.36,166.45 L562.79,166.45 L563.23,166.45 L563.66,166.45 L564.09,166.45 L564.52,166.45 L564.95,166.45 L565.38,166.45 L565.82,166.45 L566.25,166.45 L566.68,166.45 L567.11,166.45 L567.54,166.45 L567.97,166.45 L568.40,166.45 L568.84,166.45 L569.27,166.45 L569.70,166.45 L570.13,166.45 L570.56,166.45 L571.00,166.45 L571.43,166.45 L571.86,166.45 L572.29,166.45 L572.72,166.45 L573.15,166.45 L573.59,166.45 L574.02,166.45 L574.45,166.45 L574.88,166.45 L575.31,166.45 L575.74,166.45 L576.17,166.45 L576.61,166.45 L577.04,166.45 L577.47,166.45 L577.90,166.45 L578.33,166.45 L578.76,166.45 L579.20,166.45 L579.63,166.45 L580.06,166.45 L580.49,166.45 L580.92,166.45 L581.36,166.45 L581.79,166.45 L582.22,166.45 L582.65,166.45 L583.08,166.45 L583.51,166.45 L583.95,166.45 L584.38,166.45 L584.81,166.45 L585.24,166.45 L585.67,166.45 L586.10,166.45 L586.54,166.45 L586.97,166.45 L587.40,166.45 L587.83,166.45 L588.26,166.45 L588.69,166.45 L589.12,166.45 L589.56,166.45 L589.99,166.45 L590.42,166.45 L590.85,166.45 L591.28,166.45 L591.72,166.45 L592.15,166.45 L592.58,166.45 L593.01,166.45 L593.44,166.45 L593.87,166.45 L594.31,166.45 L594.74,166.45 L595.17,166.45 L595.60,166.45" fill="none" stroke="#288266" stroke-width="2.5" stroke-dasharray="7.5 2 3.6 2" stroke-linejoin="round"/>
<line x1="183.50" y1="250.10" x2="183.50" y2="436.00" stroke="#505050" stroke-width="1"/>
<line x1="183.00" y1="435.50" x2="431.00" y2="435.50" stroke="#333" stroke-width="1"/>
<line x1="183.50" y1="435.50" x2="185.70" y2="435.50" stroke="#333" stroke-width="1"/>
<line x1="183.50" y1="404.60" x2="185.70" y2="404.60" stroke="#333" stroke-width="1"/>
<line x1="183.50" y1="373.70" x2="185.70" y2="373.70" stroke="#333" stroke-width="1"/>
<line x1="183.50" y1="342.80" x2="185.70" y2="342.80" stroke="#333" stroke-width="1"/>
<line x1="183.50" y1="311.90" x2="185.70" y2="311.90" stroke="#333" stroke-width="1"/>
<line x1="183.50" y1="281.00" x2="185.70" y2="281.00" stroke="#333" stroke-width="1"/>
<line x1="183.50" y1="250.10" x2="185.70" y2="250.10" stroke="#333" stroke-width="1"/>
<line x1="183.50" y1="435.50" x2="183.50" y2="432.90" stroke="#333" stroke-width="1"/>
<line x1="208.20" y1="435.50" x2="208.20" y2="433.90" stroke="#333" stroke-width="1"/>
<line x1="232.90" y1="435.50" x2="232.90" y2="433.90" stroke="#333" stroke-width="1"/>
<line x1="257.60" y1="435.50" x2="257.60" y2="433.90" stroke="#333" stroke-width="1"/>
<line x1="282.30" y1="435.50" x2="282.30" y2="433.90" stroke="#333" stroke-width="1"/>
<line x1="307.00" y1="435.50" x2="307.00" y2="432.90" stroke="#333" stroke-width="1"/>
<line x1="331.70" y1="435.50" x2="331.70" y2="433.90" stroke="#333" stroke-width="1"/>
<line x1="356.40" y1="435.50" x2="356.40" y2="433.90" stroke="#333" stroke-width="1"/>
<line x1="381.10" y1="435.50" x2="381.10" y2="433.90" stroke="#333" stroke-width="1"/>
<line x1="405.80" y1="435.50" x2="405.80" y2="433.90" stroke="#333" stroke-width="1"/>
<line x1="430.50" y1="435.50" x2="430.50" y2="432.90" stroke="#333" stroke-width="1"/>
<path d="M183.50,422.71 L430.50,422.71" fill="none" stroke="#D74E16" stroke-width="1.5" stroke-linejoin="round"/>
<path d="M183.50,435.50 L183.97,435.50 L184.45,435.50 L184.92,435.49 L185.39,435.49 L185.87,435.48 L186.34,435.46 L186.81,435.45 L187.29,435.43 L187.76,435.42 L188.23,435.39 L188.71,435.37 L189.18,435.34 L189.65,435.31 L190.13,435.28 L190.60,435.24 L191.07,435.20 L191.55,435.15 L192.02,435.10 L192.49,435.05 L192.97,434.99 L193.44,434.93 L193.91,434.86 L194.39,434.79 L194.86,434.72 L195.33,434.64 L195.81,434.56 L196.28,434.47 L196.75,434.37 L197.23,434.27 L197.70,434.17 L198.17,434.06 L198.65,433.95 L199.12,433.83 L199.59,433.71 L200.07,433.58 L200.54,433.45 L201.01,433.31 L201.49,433.17 L201.96,433.03 L202.43,432.87 L202.91,432.72 L203.38,432.56 L203.85,432.39 L204.33,432.22 L204.80,432.04 L205.27,431.86 L205.75,431.68 L206.22,431.48 L206.69,431.29 L207.17,431.09 L207.64,430.88 L208.11,430.67 L208.59,430.46 L209.06,430.24 L209.53,430.02 L210.01,429.79 L210.48,429.56 L210.95,429.33 L211.43,429.09 L211.90,428.85 L212.37,428.60 L212.85,428.36 L213.32,428.11 L213.79,427.85 L214.27,427.60 L214.74,427.34 L215.21,427.08 L215.69,426.82 L216.16,426.56 L216.63,426.29 L217.11,426.02 L217.58,425.76 L218.05,425.49 L218.53,425.22 L219.00,424.94 L219.47,424.67 L219.95,424.39 L220.42,424.11 L220.89,423.83 L221.37,423.54 L221.84,423.25 L222.31,422.96 L222.79,422.66 L223.26,422.35 L223.73,422.04 L224.21,421.73 L224.68,421.41 L225.15,421.08 L225.63,420.75 L226.10,420.41 L226.57,420.06 L227.05,419.71 L227.52,419.35 L227.99,418.98 L228.47,418.60 L228.94,418.21 L229.41,417.81 L229.89,417.41 L230.36,416.99 L230.83,416.57 L231.31,416.13 L231.78,415.69 L232.25,415.23 L232.73,414.77 L233.20,414.30 L233.67,413.83 L234.15,413.34 L234.62,412.85 L235.09,412.35 L235.57,411.84 L236.04,411.32 L236.51,410.80 L236.99,410.28 L237.46,409.74 L237.93,409.20 L238.41,408.66 L238.88,408.11 L239.35,407.55 L239.83,406.99 L240.30,406.43 L240.77,405.86 L241.25,405.28 L241.72,404.70 L242.19,404.12 L242.67,403.53 L243.14,402.94 L243.61,402.35 L244.09,401.75 L244.56,401.14 L245.03,400.54 L245.51,399.92 L245.98,399.31 L246.45,398.69 L246.93,398.06 L247.40,397.43 L247.87,396.80 L248.35,396.16 L248.82,395.51 L249.29,394.87 L249.77,394.21 L250.24,393.56 L250.71,392.90 L251.19,392.24 L251.66,391.59 L252.13,390.93 L252.61,390.27 L253.08,389.62 L253.55,388.97 L254.03,388.33 L254.50,387.69 L254.97,387.05 L255.45,386.43 L255.92,385.81 L256.39,385.21 L256.87,384.61 L257.34,384.02 L257.81,383.45 L258.29,382.89 L258.76,382.34 L259.23,381.81 L259.71,381.30 L260.18,380.80 L260.65,380.32 L261.13,379.85 L261.60,379.40 L262.07,378.96 L262.55,378.55 L263.02,378.14 L263.49,377.76 L263.97,377.39 L264.44,377.03 L264.91,376.69 L265.39,376.37 L265.86,376.07 L266.33,375.78 L266.81,375.51 L267.28,375.25 L267.75,375.02 L268.23,374.79 L268.70,374.59 L269.17,374.40 L269.65,374.23 L270.12,374.08 L270.59,373.94 L271.07,373.83 L271.54,373.73 L272.01,373.64 L272.49,373.58 L272.96,373.55 L273.43,373.56 L273.91,373.60 L274.38,373.69 L274.85,373.84 L275.33,374.04 L275.80,374.31 L276.27,374.66 L276.75,375.08 L277.22,375.59 L277.69,376.19 L278.17,376.89 L278.64,377.69 L279.11,378.59 L279.59,379.58 L280.06,380.66 L280.53,381.82 L281.01,383.06 L281.48,384.37 L281.95,385.75 L282.43,387.19 L282.90,388.69 L283.37,390.24 L283.85,391.84 L284.32,393.48 L284.79,395.16 L285.27,396.87 L285.74,398.61 L286.21,400.36 L286.69,402.14 L287.16,403.93 L287.63,405.73 L288.11,407.53 L288.58,409.32 L289.05,411.11 L289.53,412.89 L290.00,414.64 L290.47,416.38 L290.95,418.09 L291.42,419.77 L291.89,421.41 L292.37,423.01 L292.84,424.56 L293.31,426.07 L293.79,427.52 L294.26,428.91 L294.73,430.24 L295.21,431.53 L295.68,432.81 L296.15,434.12 L296.63,435.50 L297.01,434.04 L297.39,432.54 L297.78,430.99 L298.16,429.37 L298.54,427.66 L298.93,425.85 L299.31,423.92 L299.69,421.84 L300.08,419.61 L300.46,417.20 L300.84,414.61 L301.23,411.80 L301.61,408.76 L302.00,405.48 L302.38,401.94 L302.76,398.13 L303.15,394.01 L303.53,389.58 L303.91,384.82 L305.39,430.56 L305.76,419.68 L430.50,419.68" fill="none" stroke="#FFE800" stroke-width="1.7" stroke-linejoin="round"/>
<path d="M183.50,420.05 L183.97,420.05 L184.45,420.05 L184.92,420.04 L185.39,420.03 L185.87,420.02 L186.34,420.01 L186.81,419.99 L187.29,419.97 L187.76,419.95 L188.23,419.92 L188.71,419.89 L189.18,419.85 L189.65,419.82 L190.13,419.77 L190.60,419.73 L191.07,419.68 L191.55,419.62 L192.02,419.56 L192.49,419.50 L192.97,419.42 L193.44,419.35 L193.91,419.27 L194.39,419.18 L194.86,419.09 L195.33,418.99 L195.81,418.89 L196.28,418.78 L196.75,418.66 L197.23,418.54 L197.70,418.41 L198.17,418.28 L198.65,418.14 L199.12,418.00 L199.59,417.85 L200.07,417.69 L200.54,417.53 L201.01,417.36 L201.49,417.19 L201.96,417.01 L202.43,416.82 L202.91,416.63 L203.38,416.43 L203.85,416.22 L204.33,416.01 L204.80,415.80 L205.27,415.57 L205.75,415.35 L206.22,415.11 L206.69,414.87 L207.17,414.62 L207.64,414.37 L208.11,414.11 L208.59,413.85 L209.06,413.58 L209.53,413.31 L210.01,413.03 L210.48,412.74 L210.95,412.46 L211.43,412.16 L211.90,411.87 L212.37,411.57 L212.85,411.26 L213.32,410.96 L213.79,410.65 L214.27,410.33 L214.74,410.02 L215.21,409.70 L215.69,409.37 L216.16,409.05 L216.63,408.72 L217.11,408.40 L217.58,408.07 L218.05,407.73 L218.53,407.40 L219.00,407.06 L219.47,406.73 L219.95,406.39 L220.42,406.04 L220.89,405.69 L221.37,405.34 L221.84,404.98 L222.31,404.62 L222.79,404.25 L223.26,403.88 L223.73,403.50 L224.21,403.11 L224.68,402.72 L225.15,402.32 L225.63,401.91 L226.10,401.49 L226.57,401.06 L227.05,400.63 L227.52,400.18 L227.99,399.73 L228.47,399.26 L228.94,398.78 L229.41,398.30 L229.89,397.80 L230.36,397.28 L230.83,396.76 L231.31,396.22 L231.78,395.68 L232.25,395.12 L232.73,394.55 L233.20,393.98 L233.67,393.39 L234.15,392.79 L234.62,392.19 L235.09,391.57 L235.57,390.95 L236.04,390.31 L236.51,389.67 L236.99,389.03 L237.46,388.37 L237.93,387.71 L238.41,387.03 L238.88,386.36 L239.35,385.67 L239.83,384.98 L240.30,384.29 L240.77,383.59 L241.25,382.88 L241.72,382.17 L242.19,381.45 L242.67,380.73 L243.14,380.00 L243.61,379.27 L244.09,378.53 L244.56,377.79 L245.03,377.05 L245.51,376.29 L245.98,375.53 L246.45,374.77 L246.93,374.00 L247.40,373.23 L247.87,372.45 L248.35,371.66 L248.82,370.87 L249.29,370.07 L249.77,369.27 L250.24,368.46 L250.71,367.66 L251.19,366.85 L251.66,366.04 L252.13,365.23 L252.61,364.42 L253.08,363.62 L253.55,362.82 L254.03,362.03 L254.50,361.24 L254.97,360.46 L255.45,359.69 L255.92,358.93 L256.39,358.19 L256.87,357.45 L257.34,356.73 L257.81,356.03 L258.29,355.34 L258.76,354.67 L259.23,354.02 L259.71,353.38 L260.18,352.77 L260.65,352.18 L261.13,351.60 L261.60,351.05 L262.07,350.51 L262.55,350.00 L263.02,349.50 L263.49,349.02 L263.97,348.57 L264.44,348.13 L264.91,347.72 L265.39,347.32 L265.86,346.95 L266.33,346.59 L266.81,346.26 L267.28,345.95 L267.75,345.65 L268.23,345.38 L268.70,345.13 L269.17,344.90 L269.65,344.69 L270.12,344.50 L270.59,344.34 L271.07,344.19 L271.54,344.07 L272.01,343.97 L272.49,343.89 L272.96,343.85 L273.43,343.86 L273.91,343.91 L274.38,344.03 L274.85,344.20 L275.33,344.46 L275.80,344.79 L276.27,345.22 L276.75,345.74 L277.22,346.36 L277.69,347.10 L278.17,347.96 L278.64,348.95 L279.11,350.05 L279.59,351.27 L280.06,352.60 L280.53,354.03 L281.01,355.55 L281.48,357.16 L281.95,358.86 L282.43,360.63 L282.90,362.48 L283.37,364.38 L283.85,366.35 L284.32,368.37 L284.79,370.43 L285.27,372.53 L285.74,374.67 L286.21,376.83 L286.69,379.02 L287.16,381.22 L287.63,383.43 L288.11,385.64 L288.58,387.85 L289.05,390.05 L289.53,392.23 L290.00,394.40 L290.47,396.53 L290.95,398.64 L291.42,400.70 L291.89,402.72 L292.37,404.69 L292.84,406.60 L293.31,408.45 L293.79,410.23 L294.26,411.94 L294.83,415.89 L295.26,418.51 L295.69,420.35 L296.12,421.49 L296.55,421.97 L296.98,421.85 L297.41,421.20 L297.84,420.07 L298.27,418.52 L298.70,416.60 L299.13,414.39 L299.56,411.93 L299.99,409.28 L300.42,406.51 L300.85,403.62 L301.28,400.52 L301.71,397.10 L302.14,393.25 L302.56,388.87 L302.99,383.84 L303.42,378.06 L303.85,371.42 L304.28,363.81 L305.39,419.00 L430.50,419.00" fill="none" stroke="#288266" stroke-width="1.5" stroke-dasharray="3.2 1.5" stroke-linejoin="round"/>
<path d="M183.50,373.70 L183.97,373.70 L184.45,373.69 L184.92,373.68 L185.39,373.67 L185.87,373.65 L186.34,373.63 L186.81,373.60 L187.29,373.57 L187.76,373.54 L188.23,373.49 L188.71,373.44 L189.18,373.39 L189.65,373.33 L190.13,373.26 L190.60,373.19 L191.07,373.10 L191.55,373.02 L192.02,372.92 L192.49,372.82 L192.97,372.70 L193.44,372.58 L193.91,372.45 L194.39,372.32 L194.86,372.17 L195.33,372.01 L195.81,371.85 L196.28,371.67 L196.75,371.49 L197.23,371.30 L197.70,371.09 L198.17,370.88 L198.65,370.66 L199.12,370.43 L199.59,370.19 L200.07,369.94 L200.54,369.68 L201.01,369.41 L201.49,369.14 L201.96,368.85 L202.43,368.55 L202.91,368.25 L203.38,367.93 L203.85,367.60 L204.33,367.27 L204.80,366.92 L205.27,366.57 L205.75,366.20 L206.22,365.83 L206.69,365.45 L207.17,365.05 L207.64,364.65 L208.11,364.24 L208.59,363.82 L209.06,363.39 L209.53,362.95 L210.01,362.51 L210.48,362.06 L210.95,361.60 L211.43,361.13 L211.90,360.66 L212.37,360.18 L212.85,359.70 L213.32,359.21 L213.79,358.71 L214.27,358.21 L214.74,357.71 L215.21,357.20 L215.69,356.69 L216.16,356.17 L216.63,355.65 L217.11,355.13 L217.58,354.60 L218.05,354.07 L218.53,353.54 L219.00,353.01 L219.47,352.47 L219.95,351.93 L220.42,351.38 L220.89,350.82 L221.37,350.26 L221.84,349.69 L222.31,349.11 L222.79,348.53 L223.26,347.93 L223.73,347.33 L224.21,346.71 L224.68,346.08 L225.15,345.44 L225.63,344.79 L226.10,344.13 L226.57,343.45 L227.05,342.75 L227.52,342.04 L227.99,341.32 L228.47,340.57 L228.94,339.81 L229.41,339.04 L229.89,338.24 L230.36,337.42 L230.83,336.59 L231.31,335.73 L231.78,334.86 L232.25,333.98 L232.73,333.07 L233.20,332.15 L233.67,331.22 L234.15,330.27 L234.62,329.30 L235.09,328.32 L235.57,327.32 L236.04,326.32 L236.51,325.30 L236.99,324.26 L237.46,323.22 L237.93,322.16 L238.41,321.09 L238.88,320.01 L239.35,318.92 L239.83,317.82 L240.30,316.71 L240.77,315.60 L241.25,314.47 L241.72,313.34 L242.19,312.19 L242.67,311.04 L243.14,309.89 L243.61,308.72 L244.09,307.55 L244.56,306.36 L245.03,305.17 L245.51,303.97 L245.98,302.76 L246.45,301.55 L246.93,300.32 L247.40,299.09 L247.87,297.84 L248.35,296.59 L248.82,295.33 L249.29,294.06 L249.77,292.78 L250.24,291.50 L250.71,290.21 L251.19,288.92 L251.66,287.63 L252.13,286.34 L252.61,285.05 L253.08,283.77 L253.55,282.50 L254.03,281.24 L254.50,279.99 L254.97,278.75 L255.45,277.52 L255.92,276.31 L256.39,275.12 L256.87,273.95 L257.34,272.81 L257.81,271.68 L258.29,270.58 L258.76,269.51 L259.23,268.47 L259.71,267.47 L260.18,266.49 L260.65,265.54 L261.13,264.63 L261.60,263.74 L262.07,262.89 L262.55,262.07 L263.02,261.28 L263.49,260.52 L263.97,259.80 L264.44,259.10 L264.91,258.44 L265.39,257.81 L265.86,257.21 L266.33,256.65 L266.81,256.12 L267.28,255.62 L267.75,255.15 L268.23,254.72 L268.70,254.32 L269.17,253.95 L269.65,253.62 L270.12,253.32 L270.59,253.05 L271.07,252.82 L271.54,252.62 L272.01,252.46 L272.49,252.34 L272.96,252.28 L273.43,252.29 L273.91,252.37 L274.38,252.55 L274.85,252.84 L275.33,253.24 L275.80,253.78 L276.27,254.45 L276.75,255.28 L277.22,256.28 L277.69,257.46 L278.17,258.83 L278.64,260.40 L279.11,262.16 L279.59,264.10 L280.06,266.22 L280.53,268.49 L281.01,270.92 L281.48,273.49 L281.95,276.19 L282.43,279.02 L282.90,281.96 L283.37,285.00 L283.85,288.13 L284.32,291.34 L284.79,294.63 L285.27,297.98 L285.74,301.39 L286.21,304.83 L286.69,308.32 L287.16,311.82 L287.63,315.34 L288.11,318.87 L288.58,322.39 L289.05,325.90 L289.53,329.38 L290.20,336.38 L290.69,341.59 L291.18,346.40 L291.67,350.85 L292.16,354.99 L292.65,358.86 L293.14,362.50 L293.63,365.98 L294.12,369.32 L294.61,372.58 L295.10,375.65 L295.59,378.29 L296.08,380.22 L296.57,381.18 L297.06,380.96 L297.55,379.58 L298.04,377.09 L298.53,373.53 L299.02,368.95 L299.50,363.43 L299.99,357.14 L300.48,350.22 L300.97,342.84 L301.46,335.16 L301.95,327.33 L302.44,319.50 L302.93,311.85 L303.42,304.53 L303.91,297.69 L304.90,417.27 L430.50,417.27" fill="none" stroke="#0B1F8C" stroke-width="1.8" stroke-dasharray="4.4 3.6" stroke-linejoin="round"/>
<line x1="117.3" y1="8.2" x2="135.2" y2="8.2" stroke="#D74E16" stroke-width="2.5"/>
<line x1="117.2" y1="23.4" x2="136.5" y2="23.4" stroke="#288266" stroke-width="2.5" stroke-dasharray="7.7 2.2 3.2 2.5"/>
<line x1="64" y1="68.2" x2="81.5" y2="68.2" stroke="#FFE800" stroke-width="2.0" stroke-dasharray="6 4.6"/>
<line x1="194" y1="68.5" x2="211.5" y2="68.5" stroke="#0B1F8C" stroke-width="2.0" stroke-dasharray="6 5.2"/>
<line x1="435" y1="9" x2="453" y2="9" stroke="#D74E16" stroke-width="2.5"/>
<line x1="435" y1="22.9" x2="454" y2="22.9" stroke="#288266" stroke-width="2.5" stroke-dasharray="7.5 2.2 3.2 2.5"/>
<line x1="369.6" y1="126.3" x2="386.7" y2="126.3" stroke="#FFE800" stroke-width="2.0" stroke-dasharray="5.6 5.5"/>
<line x1="369.6" y1="139.8" x2="386.7" y2="139.8" stroke="#0B1F8C" stroke-width="2.0" stroke-dasharray="5.6 5.5"/>
<line x1="497" y1="126.6" x2="514.6" y2="126.6" stroke="#FFE800" stroke-width="2.0" stroke-dasharray="6.3 5"/>
<line x1="497" y1="139.9" x2="514.6" y2="139.9" stroke="#0B1F8C" stroke-width="2.0" stroke-dasharray="6.3 5"/>
<line x1="339.9" y1="265.6" x2="361" y2="265.6" stroke="#0B1F8C" stroke-width="1.8" stroke-dasharray="5.2 3"/>
<line x1="339.9" y1="278.6" x2="362.5" y2="278.6" stroke="#288266" stroke-width="1.6" stroke-dasharray="3 1.4"/>
<line x1="339.9" y1="292.1" x2="362.5" y2="292.1" stroke="#FFE800" stroke-width="1.7"/>
<line x1="339.9" y1="305.6" x2="362.5" y2="305.6" stroke="#D74E16" stroke-width="1.6"/>
<text x="22.50" y="182.00" font-family='"Liberation Sans",sans-serif' font-size="12.6" text-anchor="end" fill="#222" >0</text>
<text x="22.50" y="139.07" font-family='"Liberation Sans",sans-serif' font-size="12.6" text-anchor="end" fill="#222" >1</text>
<text x="22.50" y="96.14" font-family='"Liberation Sans",sans-serif' font-size="12.6" text-anchor="end" fill="#222" >2</text>
<text x="22.50" y="53.21" font-family='"Liberation Sans",sans-serif' font-size="12.6" text-anchor="end" fill="#222" >3</text>
<text x="26.30" y="194.00" font-family='"Liberation Sans",sans-serif' font-size="12.6" text-anchor="middle" fill="#222" >0</text>
<text x="90.85" y="194.00" font-family='"Liberation Sans",sans-serif' font-size="12.6" text-anchor="middle" fill="#222" >5</text>
<text x="155.40" y="194.00" font-family='"Liberation Sans",sans-serif' font-size="12.6" text-anchor="middle" fill="#222" >0</text>
<text x="219.95" y="194.00" font-family='"Liberation Sans",sans-serif' font-size="12.6" text-anchor="middle" fill="#222" >5</text>
<text x="284.50" y="194.00" font-family='"Liberation Sans",sans-serif' font-size="12.6" text-anchor="middle" fill="#222" >10</text>
<text x="332.60" y="181.80" font-family='"Liberation Sans",sans-serif' font-size="12.6" text-anchor="end" fill="#222" >0</text>
<text x="332.60" y="149.55" font-family='"Liberation Sans",sans-serif' font-size="12.6" text-anchor="end" fill="#222" >1</text>
<text x="332.60" y="117.30" font-family='"Liberation Sans",sans-serif' font-size="12.6" text-anchor="end" fill="#222" >2</text>
<text x="332.60" y="85.05" font-family='"Liberation Sans",sans-serif' font-size="12.6" text-anchor="end" fill="#222" >3</text>
<text x="332.60" y="52.80" font-family='"Liberation Sans",sans-serif' font-size="12.6" text-anchor="end" fill="#222" >4</text>
<text x="336.60" y="194.00" font-family='"Liberation Sans",sans-serif' font-size="12.6" text-anchor="middle" fill="#222" >0</text>
<text x="401.35" y="194.00" font-family='"Liberation Sans",sans-serif' font-size="12.6" text-anchor="middle" fill="#222" >5</text>
<text x="466.10" y="194.00" font-family='"Liberation Sans",sans-serif' font-size="12.6" text-anchor="middle" fill="#222" >0</text>
<text x="530.85" y="194.00" font-family='"Liberation Sans",sans-serif' font-size="12.6" text-anchor="middle" fill="#222" >5</text>
<text x="595.60" y="194.00" font-family='"Liberation Sans",sans-serif' font-size="12.6" text-anchor="middle" fill="#222" >10</text>
<text x="180.00" y="440.60" font-family='"Liberation Sans",sans-serif' font-size="12.6" text-anchor="end" fill="#222" >0</text>
<text x="180.00" y="409.70" font-family='"Liberation Sans",sans-serif' font-size="12.6" text-anchor="end" fill="#222" >0.5</text>
<text x="180.00" y="378.80" font-family='"Liberation Sans",sans-serif' font-size="12.6" text-anchor="end" fill="#222" >1</text>
<text x="180.00" y="347.90" font-family='"Liberation Sans",sans-serif' font-size="12.6" text-anchor="end" fill="#222" >1.5</text>
<text x="180.00" y="317.00" font-family='"Liberation Sans",sans-serif' font-size="12.6" text-anchor="end" fill="#222" >2</text>
<text x="180.00" y="286.10" font-family='"Liberation Sans",sans-serif' font-size="12.6" text-anchor="end" fill="#222" >2.5</text>
<text x="180.00" y="255.20" font-family='"Liberation Sans",sans-serif' font-size="12.6" text-anchor="end" fill="#222" >3</text>
<text x="183.50" y="452.30" font-family='"Liberation Sans",sans-serif' font-size="12.6" text-anchor="middle" fill="#222" >0</text>
<text x="307.00" y="452.30" font-family='"Liberation Sans",sans-serif' font-size="12.6" text-anchor="middle" fill="#222" >0.5</text>
<text x="430.50" y="452.30" font-family='"Liberation Sans",sans-serif' font-size="12.6" text-anchor="middle" fill="#222" >1</text>
<text x="0.00" y="0.00" font-family='"Liberation Sans",sans-serif' font-size="12.1" text-anchor="middle" fill="#222" transform="translate(11.3,115) rotate(-90)">variance</text>
<text x="0.00" y="0.00" font-family='"Liberation Sans",sans-serif' font-size="12.1" text-anchor="middle" fill="#222" transform="translate(322.2,114) rotate(-90)">variance</text>
<text x="69.20" y="51.60" font-family='"Liberation Sans",sans-serif' font-size="12.5" text-anchor="start" fill="#222" >sample 1</text>
<text x="207.40" y="51.60" font-family='"Liberation Sans",sans-serif' font-size="12.5" text-anchor="start" fill="#222" >sample 2</text>
<text x="379.50" y="39.50" font-family='"Liberation Sans",sans-serif' font-size="12.5" text-anchor="start" fill="#222" >sample 1</text>
<text x="517.40" y="39.50" font-family='"Liberation Sans",sans-serif' font-size="12.5" text-anchor="start" fill="#222" >sample 2</text>
<text transform="matrix(1.000,0,0,1,-0.97,11.30)" font-family='"Liberation Sans",sans-serif' font-size="15.5" fill="#222" font-style="italic">a</text>
<text transform="matrix(1.000,0,0,1,7.80,11.30)" font-family='"Liberation Sans",sans-serif' font-size="15.5" fill="#222" font-style="italic">)</text>
<text transform="matrix(1.000,0,0,1,311.25,11.30)" font-family='"Liberation Sans",sans-serif' font-size="15.5" fill="#222" font-style="italic">b</text>
<text transform="matrix(1.000,0,0,1,318.40,11.30)" font-family='"Liberation Sans",sans-serif' font-size="15.5" fill="#222" font-style="italic">)</text>
<text transform="matrix(1.000,0,0,1,132.50,231.30)" font-family='"Liberation Sans",sans-serif' font-size="15.5" fill="#222" font-style="italic">c</text>
<text transform="matrix(1.000,0,0,1,140.90,231.30)" font-family='"Liberation Sans",sans-serif' font-size="15.5" fill="#222" font-style="italic">)</text>
<text transform="matrix(1.200,0,0,1,146.75,209.80)" font-family='"Liberation Serif",serif' font-size="11" fill="#222" font-style="italic">&#954;</text>
<text transform="matrix(1.208,0,0,1,155.85,209.80)" font-family='"Liberation Serif",serif' font-size="12" fill="#222" font-style="italic">Z</text>
<text transform="matrix(1.200,0,0,1,457.15,208.60)" font-family='"Liberation Serif",serif' font-size="11" fill="#222" font-style="italic">&#954;</text>
<text transform="matrix(1.192,0,0,1,466.25,208.60)" font-family='"Liberation Serif",serif' font-size="12" fill="#222" font-style="italic">Z</text>
<text transform="matrix(1.207,0,0,1,295.35,467.60)" font-family='"Liberation Serif",serif' font-size="12.5" fill="#222" font-style="italic">Z</text>
<text transform="matrix(1.314,0,0,1,304.60,467.60)" font-family='"Liberation Serif",serif' font-size="12.5" fill="#222">/</text>
<text transform="matrix(1.062,0,0,1,311.83,467.60)" font-family='"Liberation Serif",serif' font-size="12.5" fill="#222" font-style="italic">L</text>
<path d="M140.60,3.70 L138.40,9.00 L140.60,14.30" fill="none" stroke="#222" stroke-width="0.8" stroke-linejoin="miter"/>
<text transform="matrix(0.900,0,0,1,142.15,11.50)" font-family='"Liberation Serif",serif' font-size="11.5" fill="#222" stroke="#222" stroke-width="0.18">(</text>
<text transform="matrix(1.223,0,0,1,147.36,11.50)" font-family='"Liberation Serif",serif' font-size="9.8" fill="#222" font-style="italic" stroke="#222" stroke-width="0.18">X</text>
<path d="M150.20,2.90 L151.30,1.10 L152.40,2.90" fill="none" stroke="#222" stroke-width="0.75" stroke-linejoin="miter"/>
<text transform="matrix(1.000,0,0,1,156.18,13.60)" font-family='"Liberation Serif",serif' font-size="8.6" fill="#222" font-style="italic" stroke="#222" stroke-width="0.18">B</text>
<text transform="matrix(1.321,0,0,1,164.84,13.10)" font-family='"Liberation Serif",serif' font-size="11.5" fill="#222" stroke="#222" stroke-width="0.18">+</text>
<text transform="matrix(1.208,0,0,1,176.75,11.50)" font-family='"Liberation Serif",serif' font-size="9.8" fill="#222" font-style="italic" stroke="#222" stroke-width="0.18">X</text>
<path d="M179.40,2.90 L180.55,1.10 L181.70,2.90" fill="none" stroke="#222" stroke-width="0.75" stroke-linejoin="miter"/>
<text transform="matrix(1.000,0,0,1,185.73,13.60)" font-family='"Liberation Serif",serif' font-size="8.6" fill="#222" font-style="italic" stroke="#222" stroke-width="0.18">D</text>
<text transform="matrix(0.700,0,0,1,192.64,11.50)" font-family='"Liberation Serif",serif' font-size="11.5" fill="#222" stroke="#222" stroke-width="0.18">)</text>
<text transform="matrix(0.933,0,0,1,195.95,9.00)" font-family='"Liberation Serif",serif' font-size="7.6" fill="#222" stroke="#222" stroke-width="0.18">2</text>
<path d="M200.60,3.70 L203.20,9.00 L200.60,14.30" fill="none" stroke="#222" stroke-width="0.8" stroke-linejoin="miter"/>
<path d="M140.60,18.50 L138.40,23.80 L140.60,29.10" fill="none" stroke="#222" stroke-width="0.8" stroke-linejoin="miter"/>
<text transform="matrix(0.900,0,0,1,142.15,26.30)" font-family='"Liberation Serif",serif' font-size="11.5" fill="#222" stroke="#222" stroke-width="0.18">(</text>
<text transform="matrix(1.223,0,0,1,147.36,26.30)" font-family='"Liberation Serif",serif' font-size="9.8" fill="#222" font-style="italic" stroke="#222" stroke-width="0.18">X</text>
<path d="M150.20,17.70 L151.30,15.90 L152.40,17.70" fill="none" stroke="#222" stroke-width="0.75" stroke-linejoin="miter"/>
<text transform="matrix(1.000,0,0,1,156.18,28.40)" font-family='"Liberation Serif",serif' font-size="8.6" fill="#222" font-style="italic" stroke="#222" stroke-width="0.18">B</text>
<text transform="matrix(1.321,0,0,1,164.84,27.90)" font-family='"Liberation Serif",serif' font-size="11.5" fill="#222" stroke="#222" stroke-width="0.18">&#8722;</text>
<text transform="matrix(1.208,0,0,1,176.75,26.30)" font-family='"Liberation Serif",serif' font-size="9.8" fill="#222" font-style="italic" stroke="#222" stroke-width="0.18">X</text>
<path d="M179.40,17.70 L180.55,15.90 L181.70,17.70" fill="none" stroke="#222" stroke-width="0.75" stroke-linejoin="miter"/>
<text transform="matrix(1.000,0,0,1,185.73,28.40)" font-family='"Liberation Serif",serif' font-size="8.6" fill="#222" font-style="italic" stroke="#222" stroke-width="0.18">D</text>
<text transform="matrix(0.700,0,0,1,192.64,26.30)" font-family='"Liberation Serif",serif' font-size="11.5" fill="#222" stroke="#222" stroke-width="0.18">)</text>
<text transform="matrix(0.933,0,0,1,195.95,23.80)" font-family='"Liberation Serif",serif' font-size="7.6" fill="#222" stroke="#222" stroke-width="0.18">2</text>
<path d="M200.60,18.50 L203.20,23.80 L200.60,29.10" fill="none" stroke="#222" stroke-width="0.8" stroke-linejoin="miter"/>
<path d="M458.20,4.70 L456.10,10.00 L458.20,15.30" fill="none" stroke="#222" stroke-width="0.8" stroke-linejoin="miter"/>
<text transform="matrix(0.900,0,0,1,458.85,12.50)" font-family='"Liberation Serif",serif' font-size="11.5" fill="#222" stroke="#222" stroke-width="0.18">(</text>
<text transform="matrix(1.076,0,0,1,464.30,12.50)" font-family='"Liberation Serif",serif' font-size="10.8" fill="#222" font-style="italic" stroke="#222" stroke-width="0.18">X</text>
<path d="M467.60,3.50 L468.80,1.90 L470.00,3.50" fill="none" stroke="#222" stroke-width="0.75" stroke-linejoin="miter"/>
<text transform="matrix(1.000,0,0,1,472.35,14.10)" font-family='"Liberation Serif",serif' font-size="8.6" fill="#222" font-style="italic" stroke="#222" stroke-width="0.18">a</text>
<text transform="matrix(1.228,0,0,1,479.69,13.50)" font-family='"Liberation Serif",serif' font-size="11.5" fill="#222" stroke="#222" stroke-width="0.18">+</text>
<text transform="matrix(1.145,0,0,1,491.43,12.50)" font-family='"Liberation Serif",serif' font-size="10.8" fill="#222" font-style="italic" stroke="#222" stroke-width="0.18">X</text>
<path d="M495.20,3.50 L496.40,1.90 L497.60,3.50" fill="none" stroke="#222" stroke-width="0.75" stroke-linejoin="miter"/>
<text transform="matrix(1.000,0,0,1,499.82,14.10)" font-family='"Liberation Serif",serif' font-size="8.6" fill="#222" font-style="italic" stroke="#222" stroke-width="0.18">b</text>
<text transform="matrix(0.567,0,0,1,504.09,12.50)" font-family='"Liberation Serif",serif' font-size="11.5" fill="#222" stroke="#222" stroke-width="0.18">)</text>
<text transform="matrix(0.867,0,0,1,507.48,7.90)" font-family='"Liberation Serif",serif' font-size="7.6" fill="#222" stroke="#222" stroke-width="0.18">2</text>
<path d="M513.40,4.70 L515.50,10.00 L513.40,15.30" fill="none" stroke="#222" stroke-width="0.8" stroke-linejoin="miter"/>
<path d="M458.20,18.40 L456.10,23.70 L458.20,29.00" fill="none" stroke="#222" stroke-width="0.8" stroke-linejoin="miter"/>
<text transform="matrix(0.900,0,0,1,458.85,26.20)" font-family='"Liberation Serif",serif' font-size="11.5" fill="#222" stroke="#222" stroke-width="0.18">(</text>
<text transform="matrix(1.076,0,0,1,464.30,26.20)" font-family='"Liberation Serif",serif' font-size="10.8" fill="#222" font-style="italic" stroke="#222" stroke-width="0.18">X</text>
<path d="M467.60,17.20 L468.80,15.60 L470.00,17.20" fill="none" stroke="#222" stroke-width="0.75" stroke-linejoin="miter"/>
<text transform="matrix(1.000,0,0,1,472.35,27.80)" font-family='"Liberation Serif",serif' font-size="8.6" fill="#222" font-style="italic" stroke="#222" stroke-width="0.18">a</text>
<text transform="matrix(1.228,0,0,1,479.69,27.20)" font-family='"Liberation Serif",serif' font-size="11.5" fill="#222" stroke="#222" stroke-width="0.18">&#8722;</text>
<text transform="matrix(1.145,0,0,1,491.43,26.20)" font-family='"Liberation Serif",serif' font-size="10.8" fill="#222" font-style="italic" stroke="#222" stroke-width="0.18">X</text>
<path d="M495.20,17.20 L496.40,15.60 L497.60,17.20" fill="none" stroke="#222" stroke-width="0.75" stroke-linejoin="miter"/>
<text transform="matrix(1.000,0,0,1,499.82,27.80)" font-family='"Liberation Serif",serif' font-size="8.6" fill="#222" font-style="italic" stroke="#222" stroke-width="0.18">b</text>
<text transform="matrix(0.567,0,0,1,504.09,26.20)" font-family='"Liberation Serif",serif' font-size="11.5" fill="#222" stroke="#222" stroke-width="0.18">)</text>
<text transform="matrix(0.867,0,0,1,507.48,21.60)" font-family='"Liberation Serif",serif' font-size="7.6" fill="#222" stroke="#222" stroke-width="0.18">2</text>
<path d="M513.40,18.40 L515.50,23.70 L513.40,29.00" fill="none" stroke="#222" stroke-width="0.8" stroke-linejoin="miter"/>
<text transform="matrix(0.733,0,0,1,85.03,71.50)" font-family='"Liberation Serif",serif' font-size="11.5" fill="#222" stroke="#222" stroke-width="0.18">(</text>
<text transform="matrix(0.857,0,0,1,89.15,71.50)" font-family='"Liberation Serif",serif' font-size="10" fill="#222" stroke="#222" stroke-width="0.18">1</text>
<text transform="matrix(1.210,0,0,1,96.90,72.40)" font-family='"Liberation Serif",serif' font-size="11" fill="#222" stroke="#222" stroke-width="0.18">&#8722;</text>
<text transform="matrix(0.706,0,0,1,108.12,71.50)" font-family='"Liberation Serif",serif' font-size="10.5" fill="#222" font-style="italic" stroke="#222" stroke-width="0.18">&#1013;</text>
<text transform="matrix(0.974,0,0,1,112.16,67.40)" font-family='"Liberation Serif",serif' font-size="7.0" fill="#222" stroke="#222" stroke-width="0.1">2</text>
<text transform="matrix(0.600,0,0,1,117.88,71.50)" font-family='"Liberation Serif",serif' font-size="11.5" fill="#222" stroke="#222" stroke-width="0.18">)</text>
<text transform="matrix(1.229,0,0,1,121.74,68.90)" font-family='"Liberation Serif",serif' font-size="7.5" fill="#222" stroke="#222" stroke-width="0.18">&#8722;</text>
<text transform="matrix(0.990,0,0,1,127.38,67.00)" font-family='"Liberation Serif",serif' font-size="7.5" fill="#222" stroke="#222" stroke-width="0.18">1</text>
<text transform="matrix(0.981,0,0,1,214.82,71.60)" font-family='"Liberation Serif",serif' font-size="11" fill="#222" stroke="#222" stroke-width="0.18">1</text>
<text transform="matrix(0.800,0,0,1,390.60,129.30)" font-family='"Liberation Serif",serif' font-size="11.5" fill="#222" stroke="#222" stroke-width="0.18">(</text>
<text transform="matrix(0.857,0,0,1,394.75,129.30)" font-family='"Liberation Serif",serif' font-size="10" fill="#222" stroke="#222" stroke-width="0.18">1</text>
<text transform="matrix(1.210,0,0,1,402.80,130.50)" font-family='"Liberation Serif",serif' font-size="11" fill="#222" stroke="#222" stroke-width="0.18">&#8722;</text>
<text transform="matrix(0.682,0,0,1,413.53,129.30)" font-family='"Liberation Serif",serif' font-size="10.5" fill="#222" font-style="italic" stroke="#222" stroke-width="0.18">&#1013;</text>
<text transform="matrix(0.667,0,0,1,418.25,129.30)" font-family='"Liberation Serif",serif' font-size="11.5" fill="#222" stroke="#222" stroke-width="0.18">)</text>
<text transform="matrix(1.371,0,0,1,421.99,125.50)" font-family='"Liberation Serif",serif' font-size="7.5" fill="#222" stroke="#222" stroke-width="0.18">&#8722;</text>
<text transform="matrix(1.067,0,0,1,428.10,125.30)" font-family='"Liberation Serif",serif' font-size="7.5" fill="#222" stroke="#222" stroke-width="0.18">2</text>
<text transform="matrix(0.800,0,0,1,390.60,142.80)" font-family='"Liberation Serif",serif' font-size="11.5" fill="#222" stroke="#222" stroke-width="0.18">(</text>
<text transform="matrix(0.857,0,0,1,394.75,142.80)" font-family='"Liberation Serif",serif' font-size="10" fill="#222" stroke="#222" stroke-width="0.18">1</text>
<text transform="matrix(1.210,0,0,1,402.80,143.20)" font-family='"Liberation Serif",serif' font-size="11" fill="#222" stroke="#222" stroke-width="0.18">+</text>
<text transform="matrix(0.682,0,0,1,413.53,142.80)" font-family='"Liberation Serif",serif' font-size="10.5" fill="#222" font-style="italic" stroke="#222" stroke-width="0.18">&#1013;</text>
<text transform="matrix(0.667,0,0,1,418.25,142.80)" font-family='"Liberation Serif",serif' font-size="11.5" fill="#222" stroke="#222" stroke-width="0.18">)</text>
<text transform="matrix(1.371,0,0,1,421.99,139.00)" font-family='"Liberation Serif",serif' font-size="7.5" fill="#222" stroke="#222" stroke-width="0.18">&#8722;</text>
<text transform="matrix(1.067,0,0,1,428.10,138.80)" font-family='"Liberation Serif",serif' font-size="7.5" fill="#222" stroke="#222" stroke-width="0.18">2</text>
<text transform="matrix(0.800,0,0,1,517.90,130.20)" font-family='"Liberation Serif",serif' font-size="11.5" fill="#222" stroke="#222" stroke-width="0.18">(</text>
<text transform="matrix(1.057,0,0,1,521.68,130.20)" font-family='"Liberation Serif",serif' font-size="10" fill="#222" stroke="#222" stroke-width="0.18">1</text>
<text transform="matrix(1.346,0,0,1,529.83,131.10)" font-family='"Liberation Serif",serif' font-size="11" fill="#222" stroke="#222" stroke-width="0.18">+</text>
<text transform="matrix(0.776,0,0,1,541.21,130.20)" font-family='"Liberation Serif",serif' font-size="10.5" fill="#222" font-style="italic" stroke="#222" stroke-width="0.18">&#1013;</text>
<text transform="matrix(0.767,0,0,1,545.81,130.20)" font-family='"Liberation Serif",serif' font-size="11.5" fill="#222" stroke="#222" stroke-width="0.18">)</text>
<path d="M551.0,132.60 L555.3,121.60" fill="none" stroke="#222" stroke-width="1.5" stroke-linejoin="miter"/>
<text transform="matrix(0.800,0,0,1,554.40,130.20)" font-family='"Liberation Serif",serif' font-size="11.5" fill="#222" stroke="#222" stroke-width="0.18">(</text>
<text transform="matrix(0.886,0,0,1,558.12,130.20)" font-family='"Liberation Serif",serif' font-size="10" fill="#222" stroke="#222" stroke-width="0.18">1</text>
<text transform="matrix(1.268,0,0,1,565.87,131.10)" font-family='"Liberation Serif",serif' font-size="11" fill="#222" stroke="#222" stroke-width="0.18">&#8722;</text>
<text transform="matrix(0.776,0,0,1,576.91,130.20)" font-family='"Liberation Serif",serif' font-size="10.5" fill="#222" font-style="italic" stroke="#222" stroke-width="0.18">&#1013;</text>
<text transform="matrix(0.767,0,0,1,582.11,130.20)" font-family='"Liberation Serif",serif' font-size="11.5" fill="#222" stroke="#222" stroke-width="0.18">)</text>
<text transform="matrix(0.800,0,0,1,517.90,143.60)" font-family='"Liberation Serif",serif' font-size="11.5" fill="#222" stroke="#222" stroke-width="0.18">(</text>
<text transform="matrix(1.057,0,0,1,521.68,143.60)" font-family='"Liberation Serif",serif' font-size="10" fill="#222" stroke="#222" stroke-width="0.18">1</text>
<text transform="matrix(1.346,0,0,1,529.83,144.50)" font-family='"Liberation Serif",serif' font-size="11" fill="#222" stroke="#222" stroke-width="0.18">&#8722;</text>
<text transform="matrix(0.776,0,0,1,541.21,143.60)" font-family='"Liberation Serif",serif' font-size="10.5" fill="#222" font-style="italic" stroke="#222" stroke-width="0.18">&#1013;</text>
<text transform="matrix(0.767,0,0,1,545.81,143.60)" font-family='"Liberation Serif",serif' font-size="11.5" fill="#222" stroke="#222" stroke-width="0.18">)</text>
<path d="M551.0,146.00 L555.3,135.00" fill="none" stroke="#222" stroke-width="1.5" stroke-linejoin="miter"/>
<text transform="matrix(0.800,0,0,1,554.40,143.60)" font-family='"Liberation Serif",serif' font-size="11.5" fill="#222" stroke="#222" stroke-width="0.18">(</text>
<text transform="matrix(0.886,0,0,1,558.12,143.60)" font-family='"Liberation Serif",serif' font-size="10" fill="#222" stroke="#222" stroke-width="0.18">1</text>
<text transform="matrix(1.268,0,0,1,565.87,144.50)" font-family='"Liberation Serif",serif' font-size="11" fill="#222" stroke="#222" stroke-width="0.18">+</text>
<text transform="matrix(0.776,0,0,1,576.91,143.60)" font-family='"Liberation Serif",serif' font-size="10.5" fill="#222" font-style="italic" stroke="#222" stroke-width="0.18">&#1013;</text>
<text transform="matrix(0.767,0,0,1,582.11,143.60)" font-family='"Liberation Serif",serif' font-size="11.5" fill="#222" stroke="#222" stroke-width="0.18">)</text>
<text x="341.20" y="254.60" font-family='"Liberation Sans",sans-serif' font-size="12.3" text-anchor="start" fill="#222" >input state</text>
<path d="M366.0,260.20 L366.0,270.40" fill="none" stroke="#222" stroke-width="0.8" stroke-linejoin="miter"/>
<text transform="matrix(0.880,0,0,1,367.73,268.00)" font-family='"Liberation Serif",serif' font-size="10.5" fill="#222" stroke="#222" stroke-width="0.18">1</text>
<text transform="matrix(1.000,0,0,1,372.95,269.60)" font-family='"Liberation Serif",serif' font-size="7.8" fill="#222" font-style="italic" stroke="#222" stroke-width="0.18">a</text>
<text transform="matrix(1.000,0,0,1,378.23,268.00)" font-family='"Liberation Serif",serif' font-size="10.5" fill="#222" stroke="#222" stroke-width="0.18">,</text>
<text transform="matrix(0.889,0,0,1,382.47,268.00)" font-family='"Liberation Serif",serif' font-size="10.5" fill="#222" stroke="#222" stroke-width="0.18">0</text>
<text transform="matrix(1.000,0,0,1,387.55,269.60)" font-family='"Liberation Serif",serif' font-size="7.8" fill="#222" font-style="italic" stroke="#222" stroke-width="0.18">b</text>
<path d="M392.30,260.20 L394.30,265.30 L392.30,270.40" fill="none" stroke="#222" stroke-width="0.8" stroke-linejoin="miter"/>
<path d="M366.0,273.80 L366.0,284.00" fill="none" stroke="#222" stroke-width="0.8" stroke-linejoin="miter"/>
<text transform="matrix(1.042,0,0,1,367.94,281.60)" font-family='"Liberation Serif",serif' font-size="10.5" fill="#222" font-style="italic" stroke="#222" stroke-width="0.18">&#945;</text>
<text transform="matrix(1.000,0,0,1,374.25,283.20)" font-family='"Liberation Serif",serif' font-size="7.8" fill="#222" font-style="italic" stroke="#222" stroke-width="0.18">a</text>
<text transform="matrix(1.000,0,0,1,379.62,281.60)" font-family='"Liberation Serif",serif' font-size="10.5" fill="#222" stroke="#222" stroke-width="0.18">,</text>
<text transform="matrix(0.867,0,0,1,384.18,281.60)" font-family='"Liberation Serif",serif' font-size="10.5" fill="#222" stroke="#222" stroke-width="0.18">0</text>
<text transform="matrix(1.000,0,0,1,388.95,283.20)" font-family='"Liberation Serif",serif' font-size="7.8" fill="#222" font-style="italic" stroke="#222" stroke-width="0.18">b</text>
<path d="M393.90,273.80 L396.60,278.90 L393.90,284.00" fill="none" stroke="#222" stroke-width="0.8" stroke-linejoin="miter"/>
<path d="M366.0,287.20 L366.0,297.40" fill="none" stroke="#222" stroke-width="0.8" stroke-linejoin="miter"/>
<text transform="matrix(0.867,0,0,1,367.88,295.00)" font-family='"Liberation Serif",serif' font-size="10.5" fill="#222" stroke="#222" stroke-width="0.18">0</text>
<text transform="matrix(1.000,0,0,1,372.95,296.60)" font-family='"Liberation Serif",serif' font-size="7.8" fill="#222" font-style="italic" stroke="#222" stroke-width="0.18">a</text>
<text transform="matrix(1.000,0,0,1,378.23,295.00)" font-family='"Liberation Serif",serif' font-size="10.5" fill="#222" stroke="#222" stroke-width="0.18">,</text>
<text transform="matrix(0.889,0,0,1,382.47,295.00)" font-family='"Liberation Serif",serif' font-size="10.5" fill="#222" stroke="#222" stroke-width="0.18">0</text>
<text transform="matrix(1.000,0,0,1,387.55,296.60)" font-family='"Liberation Serif",serif' font-size="7.8" fill="#222" font-style="italic" stroke="#222" stroke-width="0.18">b</text>
<path d="M392.30,287.20 L394.30,292.30 L392.30,297.40" fill="none" stroke="#222" stroke-width="0.8" stroke-linejoin="miter"/>
<path d="M366.0,300.50 L366.0,310.70" fill="none" stroke="#222" stroke-width="0.8" stroke-linejoin="miter"/>
<text transform="matrix(0.867,0,0,1,367.88,308.30)" font-family='"Liberation Serif",serif' font-size="10.5" fill="#222" stroke="#222" stroke-width="0.18">0</text>
<text transform="matrix(1.000,0,0,1,373.68,309.90)" font-family='"Liberation Serif",serif' font-size="7.8" fill="#222" font-style="italic" stroke="#222" stroke-width="0.18">B</text>
<text transform="matrix(1.000,0,0,1,380.62,308.30)" font-family='"Liberation Serif",serif' font-size="10.5" fill="#222" stroke="#222" stroke-width="0.18">,</text>
<text transform="matrix(0.889,0,0,1,384.47,308.30)" font-family='"Liberation Serif",serif' font-size="10.5" fill="#222" stroke="#222" stroke-width="0.18">0</text>
<text transform="matrix(1.000,0,0,1,390.93,309.90)" font-family='"Liberation Serif",serif' font-size="7.8" fill="#222" font-style="italic" stroke="#222" stroke-width="0.18">D</text>
<path d="M398.20,300.50 L400.20,305.60 L398.20,310.70" fill="none" stroke="#222" stroke-width="0.8" stroke-linejoin="miter"/>
<text transform="matrix(0.840,0,0,1,401.38,281.00)" font-family='"Liberation Sans",sans-serif' font-size="9.5" fill="#222">(</text>
<text transform="matrix(0.944,0,0,1,404.85,281.00)" font-family='"Liberation Sans",sans-serif' font-size="9.5" fill="#222">a</text>
<text transform="matrix(1.492,0,0,1,414.05,281.00)" font-family='"Liberation Sans",sans-serif' font-size="9.5" fill="#222">=</text>
<text transform="matrix(1.244,0,0,1,422.19,281.60)" font-family='"Liberation Sans",sans-serif' font-size="10" fill="#222">&#189;</text>
<text transform="matrix(0.680,0,0,1,432.42,281.00)" font-family='"Liberation Sans",sans-serif' font-size="9.5" fill="#222">)</text>
<g transform="translate(154.9,353.5) rotate(-90)"><path d="M3.4,-9.6 L0.4,-3.3 L3.4,3.0" fill="none" stroke="#222" stroke-width="0.75"/><text transform="matrix(1.249,0,0,1,4.30,0)" font-family='"Liberation Serif",serif' font-size="12.4" font-style="italic" fill="#222" stroke="#222" stroke-width="0.15">n</text><text x="11.35" y="3.7" font-family='"Liberation Serif",serif' font-size="8.8" font-style="italic" fill="#222" stroke="#222" stroke-width="0.15">a</text><path d="M17.7,-9.6 L20.7,-3.3 L17.7,3.0" fill="none" stroke="#222" stroke-width="0.75"/></g>
</svg>
</body></html>
